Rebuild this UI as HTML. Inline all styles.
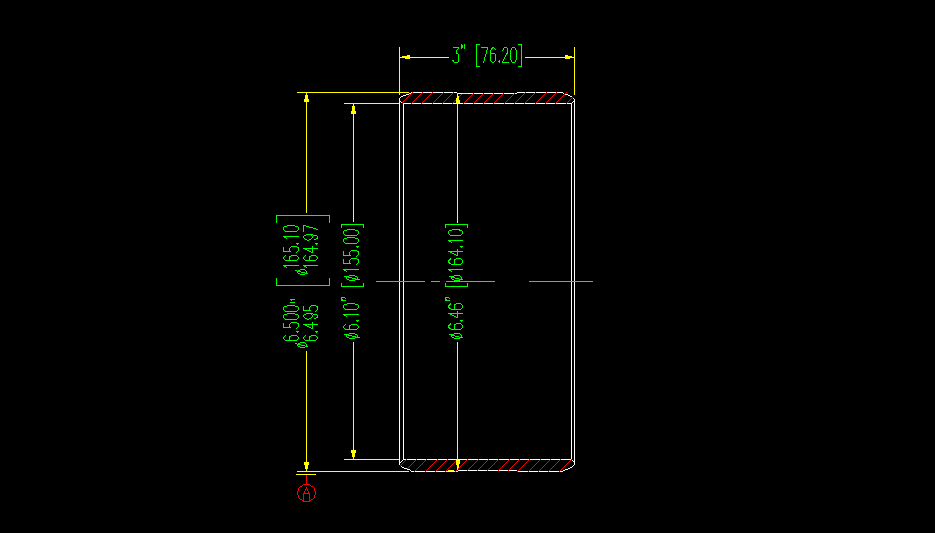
<!DOCTYPE html>
<html><head><meta charset="utf-8"><style>
html,body{margin:0;padding:0;background:#000;width:935px;height:533px;overflow:hidden;}
svg{display:block;}
</style></head><body>
<svg width="935" height="533" viewBox="0 0 935 533" shape-rendering="crispEdges">
<rect x="0" y="0" width="935" height="533" fill="#000"/>
<path fill="#ffffff" d="M411 92h1v1h-1zM413 92h9v1h-9zM423 92h9v1h-9zM433 92h10v1h-10zM444 92h9v1h-9zM454 92h3v1h-3zM517 92h8v1h-8zM526 92h9v1h-9zM536 92h10v1h-10zM547 92h9v1h-9zM557 92h6v1h-6zM409 93h2v1h-2zM458 93h4v1h-4zM468 93h5v1h-5zM474 93h9v1h-9zM484 93h9v1h-9zM494 93h9v1h-9zM504 93h10v1h-10zM515 93h2v1h-2zM563 93h1v1h-1zM406 94h3v1h-3zM565 94h3v1h-3zM403 95h3v1h-3zM568 95h2v1h-2zM401 96h2v1h-2zM570 96h2v1h-2zM400 97h1v1h-1zM399 98h1v1h-1zM573 98h1v1h-1zM399 99h1v1h-1zM574 99h1v1h-1zM399 100h1v1h-1zM574 100h1v1h-1zM399 101h2v1h-2zM573 101h2v1h-2zM399 102h1v1h-1zM401 102h1v1h-1zM572 102h1v1h-1zM574 102h1v1h-1zM399 103h1v1h-1zM403 103h8v1h-8zM412 103h9v1h-9zM422 103h10v1h-10zM433 103h9v1h-9zM443 103h9v1h-9zM453 103h4v1h-4zM458 103h5v1h-5zM464 103h9v1h-9zM474 103h9v1h-9zM484 103h9v1h-9zM494 103h10v1h-10zM505 103h9v1h-9zM515 103h9v1h-9zM525 103h10v1h-10zM536 103h9v1h-9zM546 103h9v1h-9zM556 103h10v1h-10zM567 103h5v1h-5zM574 103h1v1h-1zM399 104h1v1h-1zM403 104h1v1h-1zM571 104h1v1h-1zM574 104h1v1h-1zM399 105h1v1h-1zM403 105h1v1h-1zM571 105h1v1h-1zM574 105h1v1h-1zM399 106h1v1h-1zM403 106h1v1h-1zM571 106h1v1h-1zM574 106h1v1h-1zM399 107h1v1h-1zM403 107h1v1h-1zM571 107h1v1h-1zM574 107h1v1h-1zM399 108h1v1h-1zM403 108h1v1h-1zM571 108h1v1h-1zM574 108h1v1h-1zM399 109h1v1h-1zM403 109h1v1h-1zM571 109h1v1h-1zM574 109h1v1h-1zM399 110h1v1h-1zM403 110h1v1h-1zM571 110h1v1h-1zM574 110h1v1h-1zM399 111h1v1h-1zM403 111h1v1h-1zM571 111h1v1h-1zM574 111h1v1h-1zM399 112h1v1h-1zM403 112h1v1h-1zM571 112h1v1h-1zM574 112h1v1h-1zM399 113h1v1h-1zM403 113h1v1h-1zM571 113h1v1h-1zM574 113h1v1h-1zM399 114h1v1h-1zM403 114h1v1h-1zM571 114h1v1h-1zM574 114h1v1h-1zM399 115h1v1h-1zM403 115h1v1h-1zM571 115h1v1h-1zM574 115h1v1h-1zM399 116h1v1h-1zM403 116h1v1h-1zM571 116h1v1h-1zM574 116h1v1h-1zM399 117h1v1h-1zM403 117h1v1h-1zM571 117h1v1h-1zM574 117h1v1h-1zM399 118h1v1h-1zM403 118h1v1h-1zM571 118h1v1h-1zM574 118h1v1h-1zM399 119h1v1h-1zM403 119h1v1h-1zM571 119h1v1h-1zM574 119h1v1h-1zM399 120h1v1h-1zM403 120h1v1h-1zM571 120h1v1h-1zM574 120h1v1h-1zM399 121h1v1h-1zM403 121h1v1h-1zM571 121h1v1h-1zM574 121h1v1h-1zM399 122h1v1h-1zM403 122h1v1h-1zM571 122h1v1h-1zM574 122h1v1h-1zM399 123h1v1h-1zM403 123h1v1h-1zM571 123h1v1h-1zM574 123h1v1h-1zM399 124h1v1h-1zM403 124h1v1h-1zM571 124h1v1h-1zM574 124h1v1h-1zM399 125h1v1h-1zM403 125h1v1h-1zM571 125h1v1h-1zM574 125h1v1h-1zM399 126h1v1h-1zM403 126h1v1h-1zM571 126h1v1h-1zM574 126h1v1h-1zM399 127h1v1h-1zM403 127h1v1h-1zM571 127h1v1h-1zM574 127h1v1h-1zM399 128h1v1h-1zM403 128h1v1h-1zM571 128h1v1h-1zM574 128h1v1h-1zM399 129h1v1h-1zM403 129h1v1h-1zM571 129h1v1h-1zM574 129h1v1h-1zM399 130h1v1h-1zM403 130h1v1h-1zM571 130h1v1h-1zM574 130h1v1h-1zM399 131h1v1h-1zM403 131h1v1h-1zM571 131h1v1h-1zM574 131h1v1h-1zM399 132h1v1h-1zM403 132h1v1h-1zM571 132h1v1h-1zM574 132h1v1h-1zM399 133h1v1h-1zM403 133h1v1h-1zM571 133h1v1h-1zM574 133h1v1h-1zM399 134h1v1h-1zM403 134h1v1h-1zM571 134h1v1h-1zM574 134h1v1h-1zM399 135h1v1h-1zM403 135h1v1h-1zM571 135h1v1h-1zM574 135h1v1h-1zM399 136h1v1h-1zM403 136h1v1h-1zM571 136h1v1h-1zM574 136h1v1h-1zM399 137h1v1h-1zM403 137h1v1h-1zM571 137h1v1h-1zM574 137h1v1h-1zM399 138h1v1h-1zM403 138h1v1h-1zM571 138h1v1h-1zM574 138h1v1h-1zM399 139h1v1h-1zM403 139h1v1h-1zM571 139h1v1h-1zM574 139h1v1h-1zM399 140h1v1h-1zM403 140h1v1h-1zM571 140h1v1h-1zM574 140h1v1h-1zM399 141h1v1h-1zM403 141h1v1h-1zM571 141h1v1h-1zM574 141h1v1h-1zM399 142h1v1h-1zM403 142h1v1h-1zM571 142h1v1h-1zM574 142h1v1h-1zM399 143h1v1h-1zM403 143h1v1h-1zM571 143h1v1h-1zM574 143h1v1h-1zM399 144h1v1h-1zM403 144h1v1h-1zM571 144h1v1h-1zM574 144h1v1h-1zM399 145h1v1h-1zM403 145h1v1h-1zM571 145h1v1h-1zM574 145h1v1h-1zM399 146h1v1h-1zM403 146h1v1h-1zM571 146h1v1h-1zM574 146h1v1h-1zM399 147h1v1h-1zM403 147h1v1h-1zM571 147h1v1h-1zM574 147h1v1h-1zM399 148h1v1h-1zM403 148h1v1h-1zM571 148h1v1h-1zM574 148h1v1h-1zM399 149h1v1h-1zM403 149h1v1h-1zM571 149h1v1h-1zM574 149h1v1h-1zM399 150h1v1h-1zM403 150h1v1h-1zM571 150h1v1h-1zM574 150h1v1h-1zM399 151h1v1h-1zM403 151h1v1h-1zM571 151h1v1h-1zM574 151h1v1h-1zM399 152h1v1h-1zM403 152h1v1h-1zM571 152h1v1h-1zM574 152h1v1h-1zM399 153h1v1h-1zM403 153h1v1h-1zM571 153h1v1h-1zM574 153h1v1h-1zM399 154h1v1h-1zM403 154h1v1h-1zM571 154h1v1h-1zM574 154h1v1h-1zM399 155h1v1h-1zM403 155h1v1h-1zM571 155h1v1h-1zM574 155h1v1h-1zM399 156h1v1h-1zM403 156h1v1h-1zM571 156h1v1h-1zM574 156h1v1h-1zM399 157h1v1h-1zM403 157h1v1h-1zM571 157h1v1h-1zM574 157h1v1h-1zM399 158h1v1h-1zM403 158h1v1h-1zM571 158h1v1h-1zM574 158h1v1h-1zM399 159h1v1h-1zM403 159h1v1h-1zM571 159h1v1h-1zM574 159h1v1h-1zM399 160h1v1h-1zM403 160h1v1h-1zM571 160h1v1h-1zM574 160h1v1h-1zM399 161h1v1h-1zM403 161h1v1h-1zM571 161h1v1h-1zM574 161h1v1h-1zM399 162h1v1h-1zM403 162h1v1h-1zM571 162h1v1h-1zM574 162h1v1h-1zM399 163h1v1h-1zM403 163h1v1h-1zM571 163h1v1h-1zM574 163h1v1h-1zM399 164h1v1h-1zM403 164h1v1h-1zM571 164h1v1h-1zM574 164h1v1h-1zM399 165h1v1h-1zM403 165h1v1h-1zM571 165h1v1h-1zM574 165h1v1h-1zM399 166h1v1h-1zM403 166h1v1h-1zM571 166h1v1h-1zM574 166h1v1h-1zM399 167h1v1h-1zM403 167h1v1h-1zM571 167h1v1h-1zM574 167h1v1h-1zM399 168h1v1h-1zM403 168h1v1h-1zM571 168h1v1h-1zM574 168h1v1h-1zM399 169h1v1h-1zM403 169h1v1h-1zM571 169h1v1h-1zM574 169h1v1h-1zM399 170h1v1h-1zM403 170h1v1h-1zM571 170h1v1h-1zM574 170h1v1h-1zM399 171h1v1h-1zM403 171h1v1h-1zM571 171h1v1h-1zM574 171h1v1h-1zM399 172h1v1h-1zM403 172h1v1h-1zM571 172h1v1h-1zM574 172h1v1h-1zM399 173h1v1h-1zM403 173h1v1h-1zM571 173h1v1h-1zM574 173h1v1h-1zM399 174h1v1h-1zM403 174h1v1h-1zM571 174h1v1h-1zM574 174h1v1h-1zM399 175h1v1h-1zM403 175h1v1h-1zM571 175h1v1h-1zM574 175h1v1h-1zM399 176h1v1h-1zM403 176h1v1h-1zM571 176h1v1h-1zM574 176h1v1h-1zM399 177h1v1h-1zM403 177h1v1h-1zM571 177h1v1h-1zM574 177h1v1h-1zM399 178h1v1h-1zM403 178h1v1h-1zM571 178h1v1h-1zM574 178h1v1h-1zM399 179h1v1h-1zM403 179h1v1h-1zM571 179h1v1h-1zM574 179h1v1h-1zM399 180h1v1h-1zM403 180h1v1h-1zM571 180h1v1h-1zM574 180h1v1h-1zM399 181h1v1h-1zM403 181h1v1h-1zM571 181h1v1h-1zM574 181h1v1h-1zM399 182h1v1h-1zM403 182h1v1h-1zM571 182h1v1h-1zM574 182h1v1h-1zM399 183h1v1h-1zM403 183h1v1h-1zM571 183h1v1h-1zM574 183h1v1h-1zM399 184h1v1h-1zM403 184h1v1h-1zM571 184h1v1h-1zM574 184h1v1h-1zM399 185h1v1h-1zM403 185h1v1h-1zM571 185h1v1h-1zM574 185h1v1h-1zM399 186h1v1h-1zM403 186h1v1h-1zM571 186h1v1h-1zM574 186h1v1h-1zM399 187h1v1h-1zM403 187h1v1h-1zM571 187h1v1h-1zM574 187h1v1h-1zM399 188h1v1h-1zM403 188h1v1h-1zM571 188h1v1h-1zM574 188h1v1h-1zM399 189h1v1h-1zM403 189h1v1h-1zM571 189h1v1h-1zM574 189h1v1h-1zM399 190h1v1h-1zM403 190h1v1h-1zM571 190h1v1h-1zM574 190h1v1h-1zM399 191h1v1h-1zM403 191h1v1h-1zM571 191h1v1h-1zM574 191h1v1h-1zM399 192h1v1h-1zM403 192h1v1h-1zM571 192h1v1h-1zM574 192h1v1h-1zM399 193h1v1h-1zM403 193h1v1h-1zM571 193h1v1h-1zM574 193h1v1h-1zM399 194h1v1h-1zM403 194h1v1h-1zM571 194h1v1h-1zM574 194h1v1h-1zM399 195h1v1h-1zM403 195h1v1h-1zM571 195h1v1h-1zM574 195h1v1h-1zM399 196h1v1h-1zM403 196h1v1h-1zM571 196h1v1h-1zM574 196h1v1h-1zM399 197h1v1h-1zM403 197h1v1h-1zM571 197h1v1h-1zM574 197h1v1h-1zM399 198h1v1h-1zM403 198h1v1h-1zM571 198h1v1h-1zM574 198h1v1h-1zM399 199h1v1h-1zM403 199h1v1h-1zM571 199h1v1h-1zM574 199h1v1h-1zM399 200h1v1h-1zM403 200h1v1h-1zM571 200h1v1h-1zM574 200h1v1h-1zM399 201h1v1h-1zM403 201h1v1h-1zM571 201h1v1h-1zM574 201h1v1h-1zM399 202h1v1h-1zM403 202h1v1h-1zM571 202h1v1h-1zM574 202h1v1h-1zM399 203h1v1h-1zM403 203h1v1h-1zM571 203h1v1h-1zM574 203h1v1h-1zM399 204h1v1h-1zM403 204h1v1h-1zM571 204h1v1h-1zM574 204h1v1h-1zM399 205h1v1h-1zM403 205h1v1h-1zM571 205h1v1h-1zM574 205h1v1h-1zM399 206h1v1h-1zM403 206h1v1h-1zM571 206h1v1h-1zM574 206h1v1h-1zM399 207h1v1h-1zM403 207h1v1h-1zM571 207h1v1h-1zM574 207h1v1h-1zM399 208h1v1h-1zM403 208h1v1h-1zM571 208h1v1h-1zM574 208h1v1h-1zM399 209h1v1h-1zM403 209h1v1h-1zM571 209h1v1h-1zM574 209h1v1h-1zM399 210h1v1h-1zM403 210h1v1h-1zM571 210h1v1h-1zM574 210h1v1h-1zM399 211h1v1h-1zM403 211h1v1h-1zM571 211h1v1h-1zM574 211h1v1h-1zM399 212h1v1h-1zM403 212h1v1h-1zM571 212h1v1h-1zM574 212h1v1h-1zM399 213h1v1h-1zM403 213h1v1h-1zM571 213h1v1h-1zM574 213h1v1h-1zM399 214h1v1h-1zM403 214h1v1h-1zM571 214h1v1h-1zM574 214h1v1h-1zM399 215h1v1h-1zM403 215h1v1h-1zM571 215h1v1h-1zM574 215h1v1h-1zM399 216h1v1h-1zM403 216h1v1h-1zM571 216h1v1h-1zM574 216h1v1h-1zM399 217h1v1h-1zM403 217h1v1h-1zM571 217h1v1h-1zM574 217h1v1h-1zM399 218h1v1h-1zM403 218h1v1h-1zM571 218h1v1h-1zM574 218h1v1h-1zM399 219h1v1h-1zM403 219h1v1h-1zM571 219h1v1h-1zM574 219h1v1h-1zM399 220h1v1h-1zM403 220h1v1h-1zM571 220h1v1h-1zM574 220h1v1h-1zM399 221h1v1h-1zM403 221h1v1h-1zM571 221h1v1h-1zM574 221h1v1h-1zM399 222h1v1h-1zM403 222h1v1h-1zM571 222h1v1h-1zM574 222h1v1h-1zM399 223h1v1h-1zM403 223h1v1h-1zM571 223h1v1h-1zM574 223h1v1h-1zM399 224h1v1h-1zM403 224h1v1h-1zM571 224h1v1h-1zM574 224h1v1h-1zM399 225h1v1h-1zM403 225h1v1h-1zM571 225h1v1h-1zM574 225h1v1h-1zM399 226h1v1h-1zM403 226h1v1h-1zM571 226h1v1h-1zM574 226h1v1h-1zM399 227h1v1h-1zM403 227h1v1h-1zM571 227h1v1h-1zM574 227h1v1h-1zM399 228h1v1h-1zM403 228h1v1h-1zM571 228h1v1h-1zM574 228h1v1h-1zM399 229h1v1h-1zM403 229h1v1h-1zM571 229h1v1h-1zM574 229h1v1h-1zM399 230h1v1h-1zM403 230h1v1h-1zM571 230h1v1h-1zM574 230h1v1h-1zM399 231h1v1h-1zM403 231h1v1h-1zM571 231h1v1h-1zM574 231h1v1h-1zM399 232h1v1h-1zM403 232h1v1h-1zM571 232h1v1h-1zM574 232h1v1h-1zM399 233h1v1h-1zM403 233h1v1h-1zM571 233h1v1h-1zM574 233h1v1h-1zM399 234h1v1h-1zM403 234h1v1h-1zM571 234h1v1h-1zM574 234h1v1h-1zM399 235h1v1h-1zM403 235h1v1h-1zM571 235h1v1h-1zM574 235h1v1h-1zM399 236h1v1h-1zM403 236h1v1h-1zM571 236h1v1h-1zM574 236h1v1h-1zM399 237h1v1h-1zM403 237h1v1h-1zM571 237h1v1h-1zM574 237h1v1h-1zM399 238h1v1h-1zM403 238h1v1h-1zM571 238h1v1h-1zM574 238h1v1h-1zM399 239h1v1h-1zM403 239h1v1h-1zM571 239h1v1h-1zM574 239h1v1h-1zM399 240h1v1h-1zM403 240h1v1h-1zM571 240h1v1h-1zM574 240h1v1h-1zM399 241h1v1h-1zM403 241h1v1h-1zM571 241h1v1h-1zM574 241h1v1h-1zM399 242h1v1h-1zM403 242h1v1h-1zM571 242h1v1h-1zM574 242h1v1h-1zM399 243h1v1h-1zM403 243h1v1h-1zM571 243h1v1h-1zM574 243h1v1h-1zM399 244h1v1h-1zM403 244h1v1h-1zM571 244h1v1h-1zM574 244h1v1h-1zM399 245h1v1h-1zM403 245h1v1h-1zM571 245h1v1h-1zM574 245h1v1h-1zM399 246h1v1h-1zM403 246h1v1h-1zM571 246h1v1h-1zM574 246h1v1h-1zM399 247h1v1h-1zM403 247h1v1h-1zM571 247h1v1h-1zM574 247h1v1h-1zM399 248h1v1h-1zM403 248h1v1h-1zM571 248h1v1h-1zM574 248h1v1h-1zM399 249h1v1h-1zM403 249h1v1h-1zM571 249h1v1h-1zM574 249h1v1h-1zM399 250h1v1h-1zM403 250h1v1h-1zM571 250h1v1h-1zM574 250h1v1h-1zM399 251h1v1h-1zM403 251h1v1h-1zM571 251h1v1h-1zM574 251h1v1h-1zM399 252h1v1h-1zM403 252h1v1h-1zM571 252h1v1h-1zM574 252h1v1h-1zM399 253h1v1h-1zM403 253h1v1h-1zM571 253h1v1h-1zM574 253h1v1h-1zM399 254h1v1h-1zM403 254h1v1h-1zM571 254h1v1h-1zM574 254h1v1h-1zM399 255h1v1h-1zM403 255h1v1h-1zM571 255h1v1h-1zM574 255h1v1h-1zM399 256h1v1h-1zM403 256h1v1h-1zM571 256h1v1h-1zM574 256h1v1h-1zM399 257h1v1h-1zM403 257h1v1h-1zM571 257h1v1h-1zM574 257h1v1h-1zM399 258h1v1h-1zM403 258h1v1h-1zM571 258h1v1h-1zM574 258h1v1h-1zM399 259h1v1h-1zM403 259h1v1h-1zM571 259h1v1h-1zM574 259h1v1h-1zM399 260h1v1h-1zM403 260h1v1h-1zM571 260h1v1h-1zM574 260h1v1h-1zM399 261h1v1h-1zM403 261h1v1h-1zM571 261h1v1h-1zM574 261h1v1h-1zM399 262h1v1h-1zM403 262h1v1h-1zM571 262h1v1h-1zM574 262h1v1h-1zM399 263h1v1h-1zM403 263h1v1h-1zM571 263h1v1h-1zM574 263h1v1h-1zM399 264h1v1h-1zM403 264h1v1h-1zM571 264h1v1h-1zM574 264h1v1h-1zM399 265h1v1h-1zM403 265h1v1h-1zM571 265h1v1h-1zM574 265h1v1h-1zM399 266h1v1h-1zM403 266h1v1h-1zM571 266h1v1h-1zM574 266h1v1h-1zM399 267h1v1h-1zM403 267h1v1h-1zM571 267h1v1h-1zM574 267h1v1h-1zM399 268h1v1h-1zM403 268h1v1h-1zM571 268h1v1h-1zM574 268h1v1h-1zM399 269h1v1h-1zM403 269h1v1h-1zM571 269h1v1h-1zM574 269h1v1h-1zM399 270h1v1h-1zM403 270h1v1h-1zM571 270h1v1h-1zM574 270h1v1h-1zM399 271h1v1h-1zM403 271h1v1h-1zM571 271h1v1h-1zM574 271h1v1h-1zM399 272h1v1h-1zM403 272h1v1h-1zM571 272h1v1h-1zM574 272h1v1h-1zM399 273h1v1h-1zM403 273h1v1h-1zM571 273h1v1h-1zM574 273h1v1h-1zM399 274h1v1h-1zM403 274h1v1h-1zM571 274h1v1h-1zM574 274h1v1h-1zM399 275h1v1h-1zM403 275h1v1h-1zM571 275h1v1h-1zM574 275h1v1h-1zM399 276h1v1h-1zM403 276h1v1h-1zM571 276h1v1h-1zM574 276h1v1h-1zM399 277h1v1h-1zM403 277h1v1h-1zM571 277h1v1h-1zM574 277h1v1h-1zM399 278h1v1h-1zM403 278h1v1h-1zM571 278h1v1h-1zM574 278h1v1h-1zM399 279h1v1h-1zM403 279h1v1h-1zM571 279h1v1h-1zM574 279h1v1h-1zM399 280h1v1h-1zM403 280h1v1h-1zM571 280h1v1h-1zM574 280h1v1h-1zM399 282h1v1h-1zM403 282h1v1h-1zM571 282h1v1h-1zM574 282h1v1h-1zM399 283h1v1h-1zM403 283h1v1h-1zM571 283h1v1h-1zM574 283h1v1h-1zM399 284h1v1h-1zM403 284h1v1h-1zM571 284h1v1h-1zM574 284h1v1h-1zM399 285h1v1h-1zM403 285h1v1h-1zM571 285h1v1h-1zM574 285h1v1h-1zM399 286h1v1h-1zM403 286h1v1h-1zM571 286h1v1h-1zM574 286h1v1h-1zM399 287h1v1h-1zM403 287h1v1h-1zM571 287h1v1h-1zM574 287h1v1h-1zM399 288h1v1h-1zM403 288h1v1h-1zM571 288h1v1h-1zM574 288h1v1h-1zM399 289h1v1h-1zM403 289h1v1h-1zM571 289h1v1h-1zM574 289h1v1h-1zM399 290h1v1h-1zM403 290h1v1h-1zM571 290h1v1h-1zM574 290h1v1h-1zM399 291h1v1h-1zM403 291h1v1h-1zM571 291h1v1h-1zM574 291h1v1h-1zM399 292h1v1h-1zM403 292h1v1h-1zM571 292h1v1h-1zM574 292h1v1h-1zM399 293h1v1h-1zM403 293h1v1h-1zM571 293h1v1h-1zM574 293h1v1h-1zM399 294h1v1h-1zM403 294h1v1h-1zM571 294h1v1h-1zM574 294h1v1h-1zM399 295h1v1h-1zM403 295h1v1h-1zM571 295h1v1h-1zM574 295h1v1h-1zM399 296h1v1h-1zM403 296h1v1h-1zM571 296h1v1h-1zM574 296h1v1h-1zM399 297h1v1h-1zM403 297h1v1h-1zM571 297h1v1h-1zM574 297h1v1h-1zM399 298h1v1h-1zM403 298h1v1h-1zM571 298h1v1h-1zM574 298h1v1h-1zM399 299h1v1h-1zM403 299h1v1h-1zM571 299h1v1h-1zM574 299h1v1h-1zM399 300h1v1h-1zM403 300h1v1h-1zM571 300h1v1h-1zM574 300h1v1h-1zM399 301h1v1h-1zM403 301h1v1h-1zM571 301h1v1h-1zM574 301h1v1h-1zM399 302h1v1h-1zM403 302h1v1h-1zM571 302h1v1h-1zM574 302h1v1h-1zM399 303h1v1h-1zM403 303h1v1h-1zM571 303h1v1h-1zM574 303h1v1h-1zM399 304h1v1h-1zM403 304h1v1h-1zM571 304h1v1h-1zM574 304h1v1h-1zM399 305h1v1h-1zM403 305h1v1h-1zM571 305h1v1h-1zM574 305h1v1h-1zM399 306h1v1h-1zM403 306h1v1h-1zM571 306h1v1h-1zM574 306h1v1h-1zM399 307h1v1h-1zM403 307h1v1h-1zM571 307h1v1h-1zM574 307h1v1h-1zM399 308h1v1h-1zM403 308h1v1h-1zM571 308h1v1h-1zM574 308h1v1h-1zM399 309h1v1h-1zM403 309h1v1h-1zM571 309h1v1h-1zM574 309h1v1h-1zM399 310h1v1h-1zM403 310h1v1h-1zM571 310h1v1h-1zM574 310h1v1h-1zM399 311h1v1h-1zM403 311h1v1h-1zM571 311h1v1h-1zM574 311h1v1h-1zM399 312h1v1h-1zM403 312h1v1h-1zM571 312h1v1h-1zM574 312h1v1h-1zM399 313h1v1h-1zM403 313h1v1h-1zM571 313h1v1h-1zM574 313h1v1h-1zM399 314h1v1h-1zM403 314h1v1h-1zM571 314h1v1h-1zM574 314h1v1h-1zM399 315h1v1h-1zM403 315h1v1h-1zM571 315h1v1h-1zM574 315h1v1h-1zM399 316h1v1h-1zM403 316h1v1h-1zM571 316h1v1h-1zM574 316h1v1h-1zM399 317h1v1h-1zM403 317h1v1h-1zM571 317h1v1h-1zM574 317h1v1h-1zM399 318h1v1h-1zM403 318h1v1h-1zM571 318h1v1h-1zM574 318h1v1h-1zM399 319h1v1h-1zM403 319h1v1h-1zM571 319h1v1h-1zM574 319h1v1h-1zM399 320h1v1h-1zM403 320h1v1h-1zM571 320h1v1h-1zM574 320h1v1h-1zM399 321h1v1h-1zM403 321h1v1h-1zM571 321h1v1h-1zM574 321h1v1h-1zM399 322h1v1h-1zM403 322h1v1h-1zM571 322h1v1h-1zM574 322h1v1h-1zM399 323h1v1h-1zM403 323h1v1h-1zM571 323h1v1h-1zM574 323h1v1h-1zM399 324h1v1h-1zM403 324h1v1h-1zM571 324h1v1h-1zM574 324h1v1h-1zM399 325h1v1h-1zM403 325h1v1h-1zM571 325h1v1h-1zM574 325h1v1h-1zM399 326h1v1h-1zM403 326h1v1h-1zM571 326h1v1h-1zM574 326h1v1h-1zM399 327h1v1h-1zM403 327h1v1h-1zM571 327h1v1h-1zM574 327h1v1h-1zM399 328h1v1h-1zM403 328h1v1h-1zM571 328h1v1h-1zM574 328h1v1h-1zM399 329h1v1h-1zM403 329h1v1h-1zM571 329h1v1h-1zM574 329h1v1h-1zM399 330h1v1h-1zM403 330h1v1h-1zM571 330h1v1h-1zM574 330h1v1h-1zM399 331h1v1h-1zM403 331h1v1h-1zM571 331h1v1h-1zM574 331h1v1h-1zM399 332h1v1h-1zM403 332h1v1h-1zM571 332h1v1h-1zM574 332h1v1h-1zM399 333h1v1h-1zM403 333h1v1h-1zM571 333h1v1h-1zM574 333h1v1h-1zM399 334h1v1h-1zM403 334h1v1h-1zM571 334h1v1h-1zM574 334h1v1h-1zM399 335h1v1h-1zM403 335h1v1h-1zM571 335h1v1h-1zM574 335h1v1h-1zM399 336h1v1h-1zM403 336h1v1h-1zM571 336h1v1h-1zM574 336h1v1h-1zM399 337h1v1h-1zM403 337h1v1h-1zM571 337h1v1h-1zM574 337h1v1h-1zM399 338h1v1h-1zM403 338h1v1h-1zM571 338h1v1h-1zM574 338h1v1h-1zM399 339h1v1h-1zM403 339h1v1h-1zM571 339h1v1h-1zM574 339h1v1h-1zM399 340h1v1h-1zM403 340h1v1h-1zM571 340h1v1h-1zM574 340h1v1h-1zM399 341h1v1h-1zM403 341h1v1h-1zM571 341h1v1h-1zM574 341h1v1h-1zM399 342h1v1h-1zM403 342h1v1h-1zM571 342h1v1h-1zM574 342h1v1h-1zM399 343h1v1h-1zM403 343h1v1h-1zM571 343h1v1h-1zM574 343h1v1h-1zM399 344h1v1h-1zM403 344h1v1h-1zM571 344h1v1h-1zM574 344h1v1h-1zM399 345h1v1h-1zM403 345h1v1h-1zM571 345h1v1h-1zM574 345h1v1h-1zM399 346h1v1h-1zM403 346h1v1h-1zM571 346h1v1h-1zM574 346h1v1h-1zM399 347h1v1h-1zM403 347h1v1h-1zM571 347h1v1h-1zM574 347h1v1h-1zM399 348h1v1h-1zM403 348h1v1h-1zM571 348h1v1h-1zM574 348h1v1h-1zM399 349h1v1h-1zM403 349h1v1h-1zM571 349h1v1h-1zM574 349h1v1h-1zM399 350h1v1h-1zM403 350h1v1h-1zM571 350h1v1h-1zM574 350h1v1h-1zM399 351h1v1h-1zM403 351h1v1h-1zM571 351h1v1h-1zM574 351h1v1h-1zM399 352h1v1h-1zM403 352h1v1h-1zM571 352h1v1h-1zM574 352h1v1h-1zM399 353h1v1h-1zM403 353h1v1h-1zM571 353h1v1h-1zM574 353h1v1h-1zM399 354h1v1h-1zM403 354h1v1h-1zM571 354h1v1h-1zM574 354h1v1h-1zM399 355h1v1h-1zM403 355h1v1h-1zM571 355h1v1h-1zM574 355h1v1h-1zM399 356h1v1h-1zM403 356h1v1h-1zM571 356h1v1h-1zM574 356h1v1h-1zM399 357h1v1h-1zM403 357h1v1h-1zM571 357h1v1h-1zM574 357h1v1h-1zM399 358h1v1h-1zM403 358h1v1h-1zM571 358h1v1h-1zM574 358h1v1h-1zM399 359h1v1h-1zM403 359h1v1h-1zM571 359h1v1h-1zM574 359h1v1h-1zM399 360h1v1h-1zM403 360h1v1h-1zM571 360h1v1h-1zM574 360h1v1h-1zM399 361h1v1h-1zM403 361h1v1h-1zM571 361h1v1h-1zM574 361h1v1h-1zM399 362h1v1h-1zM403 362h1v1h-1zM571 362h1v1h-1zM574 362h1v1h-1zM399 363h1v1h-1zM403 363h1v1h-1zM571 363h1v1h-1zM574 363h1v1h-1zM399 364h1v1h-1zM403 364h1v1h-1zM571 364h1v1h-1zM574 364h1v1h-1zM399 365h1v1h-1zM403 365h1v1h-1zM571 365h1v1h-1zM574 365h1v1h-1zM399 366h1v1h-1zM403 366h1v1h-1zM571 366h1v1h-1zM574 366h1v1h-1zM399 367h1v1h-1zM403 367h1v1h-1zM571 367h1v1h-1zM574 367h1v1h-1zM399 368h1v1h-1zM403 368h1v1h-1zM571 368h1v1h-1zM574 368h1v1h-1zM399 369h1v1h-1zM403 369h1v1h-1zM571 369h1v1h-1zM574 369h1v1h-1zM399 370h1v1h-1zM403 370h1v1h-1zM571 370h1v1h-1zM574 370h1v1h-1zM399 371h1v1h-1zM403 371h1v1h-1zM571 371h1v1h-1zM574 371h1v1h-1zM399 372h1v1h-1zM403 372h1v1h-1zM571 372h1v1h-1zM574 372h1v1h-1zM399 373h1v1h-1zM403 373h1v1h-1zM571 373h1v1h-1zM574 373h1v1h-1zM399 374h1v1h-1zM403 374h1v1h-1zM571 374h1v1h-1zM574 374h1v1h-1zM399 375h1v1h-1zM403 375h1v1h-1zM571 375h1v1h-1zM574 375h1v1h-1zM399 376h1v1h-1zM403 376h1v1h-1zM571 376h1v1h-1zM574 376h1v1h-1zM399 377h1v1h-1zM403 377h1v1h-1zM571 377h1v1h-1zM574 377h1v1h-1zM399 378h1v1h-1zM403 378h1v1h-1zM571 378h1v1h-1zM574 378h1v1h-1zM399 379h1v1h-1zM403 379h1v1h-1zM571 379h1v1h-1zM574 379h1v1h-1zM399 380h1v1h-1zM403 380h1v1h-1zM571 380h1v1h-1zM574 380h1v1h-1zM399 381h1v1h-1zM403 381h1v1h-1zM571 381h1v1h-1zM574 381h1v1h-1zM399 382h1v1h-1zM403 382h1v1h-1zM571 382h1v1h-1zM574 382h1v1h-1zM399 383h1v1h-1zM403 383h1v1h-1zM571 383h1v1h-1zM574 383h1v1h-1zM399 384h1v1h-1zM403 384h1v1h-1zM571 384h1v1h-1zM574 384h1v1h-1zM399 385h1v1h-1zM403 385h1v1h-1zM571 385h1v1h-1zM574 385h1v1h-1zM399 386h1v1h-1zM403 386h1v1h-1zM571 386h1v1h-1zM574 386h1v1h-1zM399 387h1v1h-1zM403 387h1v1h-1zM571 387h1v1h-1zM574 387h1v1h-1zM399 388h1v1h-1zM403 388h1v1h-1zM571 388h1v1h-1zM574 388h1v1h-1zM399 389h1v1h-1zM403 389h1v1h-1zM571 389h1v1h-1zM574 389h1v1h-1zM399 390h1v1h-1zM403 390h1v1h-1zM571 390h1v1h-1zM574 390h1v1h-1zM399 391h1v1h-1zM403 391h1v1h-1zM571 391h1v1h-1zM574 391h1v1h-1zM399 392h1v1h-1zM403 392h1v1h-1zM571 392h1v1h-1zM574 392h1v1h-1zM399 393h1v1h-1zM403 393h1v1h-1zM571 393h1v1h-1zM574 393h1v1h-1zM399 394h1v1h-1zM403 394h1v1h-1zM571 394h1v1h-1zM574 394h1v1h-1zM399 395h1v1h-1zM403 395h1v1h-1zM571 395h1v1h-1zM574 395h1v1h-1zM399 396h1v1h-1zM403 396h1v1h-1zM571 396h1v1h-1zM574 396h1v1h-1zM399 397h1v1h-1zM403 397h1v1h-1zM571 397h1v1h-1zM574 397h1v1h-1zM399 398h1v1h-1zM403 398h1v1h-1zM571 398h1v1h-1zM574 398h1v1h-1zM399 399h1v1h-1zM403 399h1v1h-1zM571 399h1v1h-1zM574 399h1v1h-1zM399 400h1v1h-1zM403 400h1v1h-1zM571 400h1v1h-1zM574 400h1v1h-1zM399 401h1v1h-1zM403 401h1v1h-1zM571 401h1v1h-1zM574 401h1v1h-1zM399 402h1v1h-1zM403 402h1v1h-1zM571 402h1v1h-1zM574 402h1v1h-1zM399 403h1v1h-1zM403 403h1v1h-1zM571 403h1v1h-1zM574 403h1v1h-1zM399 404h1v1h-1zM403 404h1v1h-1zM571 404h1v1h-1zM574 404h1v1h-1zM399 405h1v1h-1zM403 405h1v1h-1zM571 405h1v1h-1zM574 405h1v1h-1zM399 406h1v1h-1zM403 406h1v1h-1zM571 406h1v1h-1zM574 406h1v1h-1zM399 407h1v1h-1zM403 407h1v1h-1zM571 407h1v1h-1zM574 407h1v1h-1zM399 408h1v1h-1zM403 408h1v1h-1zM571 408h1v1h-1zM574 408h1v1h-1zM399 409h1v1h-1zM403 409h1v1h-1zM571 409h1v1h-1zM574 409h1v1h-1zM399 410h1v1h-1zM403 410h1v1h-1zM571 410h1v1h-1zM574 410h1v1h-1zM399 411h1v1h-1zM403 411h1v1h-1zM571 411h1v1h-1zM574 411h1v1h-1zM399 412h1v1h-1zM403 412h1v1h-1zM571 412h1v1h-1zM574 412h1v1h-1zM399 413h1v1h-1zM403 413h1v1h-1zM571 413h1v1h-1zM574 413h1v1h-1zM399 414h1v1h-1zM403 414h1v1h-1zM571 414h1v1h-1zM574 414h1v1h-1zM399 415h1v1h-1zM403 415h1v1h-1zM571 415h1v1h-1zM574 415h1v1h-1zM399 416h1v1h-1zM403 416h1v1h-1zM571 416h1v1h-1zM574 416h1v1h-1zM399 417h1v1h-1zM403 417h1v1h-1zM571 417h1v1h-1zM574 417h1v1h-1zM399 418h1v1h-1zM403 418h1v1h-1zM571 418h1v1h-1zM574 418h1v1h-1zM399 419h1v1h-1zM403 419h1v1h-1zM571 419h1v1h-1zM574 419h1v1h-1zM399 420h1v1h-1zM403 420h1v1h-1zM571 420h1v1h-1zM574 420h1v1h-1zM399 421h1v1h-1zM403 421h1v1h-1zM571 421h1v1h-1zM574 421h1v1h-1zM399 422h1v1h-1zM403 422h1v1h-1zM571 422h1v1h-1zM574 422h1v1h-1zM399 423h1v1h-1zM403 423h1v1h-1zM571 423h1v1h-1zM574 423h1v1h-1zM399 424h1v1h-1zM403 424h1v1h-1zM571 424h1v1h-1zM574 424h1v1h-1zM399 425h1v1h-1zM403 425h1v1h-1zM571 425h1v1h-1zM574 425h1v1h-1zM399 426h1v1h-1zM403 426h1v1h-1zM571 426h1v1h-1zM574 426h1v1h-1zM399 427h1v1h-1zM403 427h1v1h-1zM571 427h1v1h-1zM574 427h1v1h-1zM399 428h1v1h-1zM403 428h1v1h-1zM571 428h1v1h-1zM574 428h1v1h-1zM399 429h1v1h-1zM403 429h1v1h-1zM571 429h1v1h-1zM574 429h1v1h-1zM399 430h1v1h-1zM403 430h1v1h-1zM571 430h1v1h-1zM574 430h1v1h-1zM399 431h1v1h-1zM403 431h1v1h-1zM571 431h1v1h-1zM574 431h1v1h-1zM399 432h1v1h-1zM403 432h1v1h-1zM571 432h1v1h-1zM574 432h1v1h-1zM399 433h1v1h-1zM403 433h1v1h-1zM571 433h1v1h-1zM574 433h1v1h-1zM399 434h1v1h-1zM403 434h1v1h-1zM571 434h1v1h-1zM574 434h1v1h-1zM399 435h1v1h-1zM403 435h1v1h-1zM571 435h1v1h-1zM574 435h1v1h-1zM399 436h1v1h-1zM403 436h1v1h-1zM571 436h1v1h-1zM574 436h1v1h-1zM399 437h1v1h-1zM403 437h1v1h-1zM571 437h1v1h-1zM574 437h1v1h-1zM399 438h1v1h-1zM403 438h1v1h-1zM571 438h1v1h-1zM574 438h1v1h-1zM399 439h1v1h-1zM403 439h1v1h-1zM571 439h1v1h-1zM574 439h1v1h-1zM399 440h1v1h-1zM403 440h1v1h-1zM571 440h1v1h-1zM574 440h1v1h-1zM399 441h1v1h-1zM403 441h1v1h-1zM571 441h1v1h-1zM574 441h1v1h-1zM399 442h1v1h-1zM403 442h1v1h-1zM571 442h1v1h-1zM574 442h1v1h-1zM399 443h1v1h-1zM403 443h1v1h-1zM571 443h1v1h-1zM574 443h1v1h-1zM399 444h1v1h-1zM403 444h1v1h-1zM571 444h1v1h-1zM574 444h1v1h-1zM399 445h1v1h-1zM403 445h1v1h-1zM571 445h1v1h-1zM574 445h1v1h-1zM399 446h1v1h-1zM403 446h1v1h-1zM571 446h1v1h-1zM574 446h1v1h-1zM399 447h1v1h-1zM403 447h1v1h-1zM571 447h1v1h-1zM574 447h1v1h-1zM399 448h1v1h-1zM403 448h1v1h-1zM571 448h1v1h-1zM574 448h1v1h-1zM399 449h1v1h-1zM403 449h1v1h-1zM571 449h1v1h-1zM574 449h1v1h-1zM399 450h1v1h-1zM403 450h1v1h-1zM571 450h1v1h-1zM574 450h1v1h-1zM399 451h1v1h-1zM403 451h1v1h-1zM571 451h1v1h-1zM574 451h1v1h-1zM399 452h1v1h-1zM403 452h1v1h-1zM571 452h1v1h-1zM574 452h1v1h-1zM399 453h1v1h-1zM403 453h1v1h-1zM571 453h1v1h-1zM574 453h1v1h-1zM399 454h1v1h-1zM403 454h1v1h-1zM571 454h1v1h-1zM574 454h1v1h-1zM399 455h1v1h-1zM403 455h1v1h-1zM571 455h1v1h-1zM574 455h1v1h-1zM399 456h1v1h-1zM403 456h1v1h-1zM571 456h1v1h-1zM574 456h1v1h-1zM399 457h1v1h-1zM403 457h1v1h-1zM571 457h1v1h-1zM574 457h1v1h-1zM399 458h1v1h-1zM403 458h1v1h-1zM571 458h1v1h-1zM574 458h1v1h-1zM399 459h1v1h-1zM403 459h3v1h-3zM407 459h9v1h-9zM417 459h9v1h-9zM427 459h10v1h-10zM438 459h9v1h-9zM448 459h9v1h-9zM458 459h9v1h-9zM468 459h10v1h-10zM479 459h9v1h-9zM489 459h9v1h-9zM499 459h10v1h-10zM510 459h9v1h-9zM520 459h9v1h-9zM530 459h10v1h-10zM541 459h9v1h-9zM551 459h9v1h-9zM561 459h10v1h-10zM574 459h1v1h-1zM399 460h1v1h-1zM402 460h1v1h-1zM572 460h1v1h-1zM574 460h1v1h-1zM399 461h1v1h-1zM401 461h1v1h-1zM573 461h2v1h-2zM399 462h2v1h-2zM574 462h1v1h-1zM399 463h1v1h-1zM574 463h1v1h-1zM399 464h1v1h-1zM574 464h1v1h-1zM573 465h1v1h-1zM401 466h1v1h-1zM572 466h1v1h-1zM402 467h2v1h-2zM570 467h2v1h-2zM404 468h3v1h-3zM568 468h2v1h-2zM407 469h3v1h-3zM565 469h3v1h-3zM410 470h1v1h-1zM458 470h9v1h-9zM468 470h9v1h-9zM478 470h9v1h-9zM488 470h10v1h-10zM499 470h9v1h-9zM509 470h8v1h-8zM563 470h2v1h-2zM411 471h3v1h-3zM415 471h10v1h-10zM426 471h9v1h-9zM436 471h9v1h-9zM446 471h9v1h-9zM456 471h2v1h-2zM518 471h10v1h-10zM529 471h9v1h-9zM539 471h9v1h-9zM549 471h10v1h-10zM560 471h3v1h-3z"/>
<path fill="#ff0000" d="M412 92h1v1h-1zM422 92h1v1h-1zM432 92h1v1h-1zM443 92h1v1h-1zM453 92h1v1h-1zM525 92h1v1h-1zM535 92h1v1h-1zM546 92h1v1h-1zM556 92h1v1h-1zM566 92h1v1h-1zM411 93h1v1h-1zM421 93h1v1h-1zM431 93h1v1h-1zM442 93h1v1h-1zM452 93h1v1h-1zM473 93h1v1h-1zM483 93h1v1h-1zM493 93h1v1h-1zM503 93h1v1h-1zM514 93h1v1h-1zM524 93h1v1h-1zM534 93h1v1h-1zM545 93h1v1h-1zM555 93h1v1h-1zM565 93h1v1h-1zM410 94h1v1h-1zM420 94h1v1h-1zM430 94h1v1h-1zM441 94h1v1h-1zM451 94h1v1h-1zM461 94h1v1h-1zM472 94h1v1h-1zM482 94h1v1h-1zM492 94h1v1h-1zM502 94h1v1h-1zM513 94h1v1h-1zM523 94h1v1h-1zM533 94h1v1h-1zM544 94h1v1h-1zM554 94h1v1h-1zM564 94h1v1h-1zM409 95h1v1h-1zM419 95h1v1h-1zM429 95h1v1h-1zM440 95h1v1h-1zM450 95h1v1h-1zM460 95h1v1h-1zM471 95h1v1h-1zM481 95h1v1h-1zM491 95h1v1h-1zM501 95h1v1h-1zM512 95h1v1h-1zM522 95h1v1h-1zM532 95h1v1h-1zM543 95h1v1h-1zM553 95h1v1h-1zM563 95h1v1h-1zM408 96h1v1h-1zM418 96h1v1h-1zM428 96h1v1h-1zM439 96h1v1h-1zM449 96h1v1h-1zM459 96h1v1h-1zM470 96h1v1h-1zM480 96h1v1h-1zM490 96h1v1h-1zM500 96h1v1h-1zM511 96h1v1h-1zM521 96h1v1h-1zM531 96h1v1h-1zM542 96h1v1h-1zM552 96h1v1h-1zM562 96h1v1h-1zM407 97h1v1h-1zM417 97h1v1h-1zM427 97h1v1h-1zM438 97h1v1h-1zM448 97h1v1h-1zM469 97h1v1h-1zM479 97h1v1h-1zM489 97h1v1h-1zM499 97h1v1h-1zM510 97h1v1h-1zM520 97h1v1h-1zM530 97h1v1h-1zM541 97h1v1h-1zM551 97h1v1h-1zM561 97h1v1h-1zM572 97h1v1h-1zM406 98h1v1h-1zM416 98h1v1h-1zM426 98h1v1h-1zM437 98h1v1h-1zM447 98h1v1h-1zM468 98h1v1h-1zM478 98h1v1h-1zM488 98h1v1h-1zM498 98h1v1h-1zM509 98h1v1h-1zM519 98h1v1h-1zM529 98h1v1h-1zM540 98h1v1h-1zM550 98h1v1h-1zM560 98h1v1h-1zM571 98h1v1h-1zM405 99h1v1h-1zM415 99h1v1h-1zM425 99h1v1h-1zM436 99h1v1h-1zM446 99h1v1h-1zM467 99h1v1h-1zM477 99h1v1h-1zM487 99h1v1h-1zM497 99h1v1h-1zM508 99h1v1h-1zM518 99h1v1h-1zM528 99h1v1h-1zM539 99h1v1h-1zM549 99h1v1h-1zM559 99h1v1h-1zM570 99h1v1h-1zM404 100h1v1h-1zM414 100h1v1h-1zM424 100h1v1h-1zM435 100h1v1h-1zM445 100h1v1h-1zM455 100h1v1h-1zM466 100h1v1h-1zM476 100h1v1h-1zM486 100h1v1h-1zM496 100h1v1h-1zM507 100h1v1h-1zM517 100h1v1h-1zM527 100h1v1h-1zM538 100h1v1h-1zM548 100h1v1h-1zM558 100h1v1h-1zM569 100h1v1h-1zM403 101h1v1h-1zM413 101h1v1h-1zM423 101h1v1h-1zM434 101h1v1h-1zM444 101h1v1h-1zM454 101h1v1h-1zM465 101h1v1h-1zM475 101h1v1h-1zM485 101h1v1h-1zM495 101h1v1h-1zM506 101h1v1h-1zM516 101h1v1h-1zM526 101h1v1h-1zM537 101h1v1h-1zM547 101h1v1h-1zM557 101h1v1h-1zM568 101h1v1h-1zM402 102h1v1h-1zM412 102h1v1h-1zM422 102h1v1h-1zM433 102h1v1h-1zM443 102h1v1h-1zM453 102h1v1h-1zM464 102h1v1h-1zM474 102h1v1h-1zM484 102h1v1h-1zM494 102h1v1h-1zM505 102h1v1h-1zM515 102h1v1h-1zM525 102h1v1h-1zM536 102h1v1h-1zM546 102h1v1h-1zM556 102h1v1h-1zM567 102h1v1h-1zM411 103h1v1h-1zM421 103h1v1h-1zM432 103h1v1h-1zM442 103h1v1h-1zM452 103h1v1h-1zM463 103h1v1h-1zM473 103h1v1h-1zM483 103h1v1h-1zM493 103h1v1h-1zM504 103h1v1h-1zM514 103h1v1h-1zM524 103h1v1h-1zM535 103h1v1h-1zM545 103h1v1h-1zM555 103h1v1h-1zM566 103h1v1h-1zM406 459h1v1h-1zM416 459h1v1h-1zM426 459h1v1h-1zM437 459h1v1h-1zM447 459h1v1h-1zM467 459h1v1h-1zM478 459h1v1h-1zM488 459h1v1h-1zM498 459h1v1h-1zM509 459h1v1h-1zM519 459h1v1h-1zM529 459h1v1h-1zM540 459h1v1h-1zM550 459h1v1h-1zM560 459h1v1h-1zM571 459h1v1h-1zM405 460h1v1h-1zM415 460h1v1h-1zM425 460h1v1h-1zM436 460h1v1h-1zM446 460h1v1h-1zM466 460h1v1h-1zM477 460h1v1h-1zM487 460h1v1h-1zM497 460h1v1h-1zM508 460h1v1h-1zM518 460h1v1h-1zM528 460h1v1h-1zM539 460h1v1h-1zM549 460h1v1h-1zM559 460h1v1h-1zM570 460h1v1h-1zM404 461h1v1h-1zM414 461h1v1h-1zM424 461h1v1h-1zM435 461h1v1h-1zM445 461h1v1h-1zM455 461h1v1h-1zM465 461h1v1h-1zM476 461h1v1h-1zM486 461h1v1h-1zM496 461h1v1h-1zM507 461h1v1h-1zM517 461h1v1h-1zM527 461h1v1h-1zM538 461h1v1h-1zM548 461h1v1h-1zM558 461h1v1h-1zM569 461h1v1h-1zM403 462h1v1h-1zM413 462h1v1h-1zM423 462h1v1h-1zM434 462h1v1h-1zM444 462h1v1h-1zM454 462h1v1h-1zM464 462h1v1h-1zM475 462h1v1h-1zM485 462h1v1h-1zM495 462h1v1h-1zM506 462h1v1h-1zM516 462h1v1h-1zM526 462h1v1h-1zM537 462h1v1h-1zM547 462h1v1h-1zM557 462h1v1h-1zM568 462h1v1h-1zM402 463h1v1h-1zM412 463h1v1h-1zM422 463h1v1h-1zM433 463h1v1h-1zM443 463h1v1h-1zM453 463h1v1h-1zM463 463h1v1h-1zM474 463h1v1h-1zM484 463h1v1h-1zM494 463h1v1h-1zM505 463h1v1h-1zM515 463h1v1h-1zM525 463h1v1h-1zM536 463h1v1h-1zM546 463h1v1h-1zM556 463h1v1h-1zM567 463h1v1h-1zM401 464h1v1h-1zM411 464h1v1h-1zM421 464h1v1h-1zM432 464h1v1h-1zM442 464h1v1h-1zM452 464h1v1h-1zM462 464h1v1h-1zM473 464h1v1h-1zM483 464h1v1h-1zM493 464h1v1h-1zM504 464h1v1h-1zM514 464h1v1h-1zM524 464h1v1h-1zM535 464h1v1h-1zM545 464h1v1h-1zM555 464h1v1h-1zM566 464h1v1h-1zM400 465h1v1h-1zM410 465h1v1h-1zM420 465h1v1h-1zM431 465h1v1h-1zM441 465h1v1h-1zM451 465h1v1h-1zM461 465h1v1h-1zM472 465h1v1h-1zM482 465h1v1h-1zM492 465h1v1h-1zM503 465h1v1h-1zM513 465h1v1h-1zM523 465h1v1h-1zM534 465h1v1h-1zM544 465h1v1h-1zM554 465h1v1h-1zM565 465h1v1h-1zM409 466h1v1h-1zM419 466h1v1h-1zM430 466h1v1h-1zM440 466h1v1h-1zM450 466h1v1h-1zM460 466h1v1h-1zM471 466h1v1h-1zM481 466h1v1h-1zM491 466h1v1h-1zM502 466h1v1h-1zM512 466h1v1h-1zM522 466h1v1h-1zM533 466h1v1h-1zM543 466h1v1h-1zM553 466h1v1h-1zM564 466h1v1h-1zM408 467h1v1h-1zM418 467h1v1h-1zM429 467h1v1h-1zM439 467h1v1h-1zM449 467h1v1h-1zM459 467h1v1h-1zM470 467h1v1h-1zM480 467h1v1h-1zM490 467h1v1h-1zM501 467h1v1h-1zM511 467h1v1h-1zM521 467h1v1h-1zM532 467h1v1h-1zM542 467h1v1h-1zM552 467h1v1h-1zM563 467h1v1h-1zM407 468h1v1h-1zM417 468h1v1h-1zM428 468h1v1h-1zM438 468h1v1h-1zM448 468h1v1h-1zM458 468h1v1h-1zM469 468h1v1h-1zM479 468h1v1h-1zM489 468h1v1h-1zM500 468h1v1h-1zM510 468h1v1h-1zM520 468h1v1h-1zM531 468h1v1h-1zM541 468h1v1h-1zM551 468h1v1h-1zM562 468h1v1h-1zM416 469h1v1h-1zM427 469h1v1h-1zM437 469h1v1h-1zM447 469h1v1h-1zM468 469h1v1h-1zM478 469h1v1h-1zM488 469h1v1h-1zM499 469h1v1h-1zM509 469h1v1h-1zM519 469h1v1h-1zM530 469h1v1h-1zM540 469h1v1h-1zM550 469h1v1h-1zM561 469h1v1h-1zM415 470h1v1h-1zM426 470h1v1h-1zM436 470h1v1h-1zM446 470h1v1h-1zM456 470h1v1h-1zM467 470h1v1h-1zM477 470h1v1h-1zM487 470h1v1h-1zM498 470h1v1h-1zM508 470h1v1h-1zM518 470h1v1h-1zM529 470h1v1h-1zM539 470h1v1h-1zM549 470h1v1h-1zM560 470h1v1h-1zM414 471h1v1h-1zM425 471h1v1h-1zM435 471h1v1h-1zM445 471h1v1h-1zM455 471h1v1h-1zM517 471h1v1h-1zM528 471h1v1h-1zM538 471h1v1h-1zM548 471h1v1h-1zM559 471h1v1h-1zM306 475h1v1h-1zM306 476h1v1h-1zM306 477h1v1h-1zM306 478h1v1h-1zM306 479h1v1h-1zM306 480h1v1h-1zM306 481h1v1h-1zM306 482h1v1h-1zM306 483h1v1h-1zM303 484h7v1h-7zM302 485h1v1h-1zM310 485h1v1h-1zM300 486h2v1h-2zM311 486h2v1h-2zM299 487h1v1h-1zM306 487h1v1h-1zM313 487h1v1h-1zM298 488h1v1h-1zM306 488h1v1h-1zM314 488h1v1h-1zM298 489h1v1h-1zM305 489h1v1h-1zM307 489h1v1h-1zM314 489h1v1h-1zM298 490h1v1h-1zM305 490h1v1h-1zM307 490h1v1h-1zM314 490h1v1h-1zM297 491h1v1h-1zM304 491h1v1h-1zM308 491h1v1h-1zM315 491h1v1h-1zM297 492h1v1h-1zM304 492h1v1h-1zM308 492h1v1h-1zM315 492h1v1h-1zM297 493h1v1h-1zM303 493h7v1h-7zM315 493h1v1h-1zM297 494h1v1h-1zM303 494h1v1h-1zM309 494h1v1h-1zM315 494h1v1h-1zM298 495h1v1h-1zM303 495h1v1h-1zM309 495h1v1h-1zM314 495h1v1h-1zM298 496h1v1h-1zM303 496h1v1h-1zM309 496h1v1h-1zM314 496h1v1h-1zM298 497h1v1h-1zM303 497h1v1h-1zM309 497h1v1h-1zM314 497h1v1h-1zM299 498h1v1h-1zM303 498h1v1h-1zM309 498h1v1h-1zM313 498h1v1h-1zM300 499h2v1h-2zM303 499h1v1h-1zM309 499h1v1h-1zM311 499h2v1h-2zM302 500h2v1h-2zM309 500h2v1h-2zM303 501h7v1h-7z"/>
<path fill="#ffff00" d="M399 47h1v1h-1zM574 47h1v1h-1zM399 48h1v1h-1zM574 48h1v1h-1zM399 49h1v1h-1zM574 49h1v1h-1zM399 50h1v1h-1zM574 50h1v1h-1zM399 51h1v1h-1zM574 51h1v1h-1zM399 52h1v1h-1zM574 52h1v1h-1zM399 53h1v1h-1zM574 53h1v1h-1zM399 54h1v1h-1zM574 54h1v1h-1zM399 55h1v1h-1zM407 55h3v1h-3zM565 55h3v1h-3zM574 55h1v1h-1zM399 56h1v1h-1zM402 56h8v1h-8zM565 56h7v1h-7zM574 56h1v1h-1zM399 57h50v1h-50zM525 57h50v1h-50zM399 58h1v1h-1zM405 58h5v1h-5zM565 58h5v1h-5zM574 58h1v1h-1zM399 59h1v1h-1zM574 59h1v1h-1zM399 60h1v1h-1zM574 60h1v1h-1zM399 61h1v1h-1zM574 61h1v1h-1zM399 62h1v1h-1zM574 62h1v1h-1zM399 63h1v1h-1zM574 63h1v1h-1zM399 64h1v1h-1zM574 64h1v1h-1zM399 65h1v1h-1zM574 65h1v1h-1zM399 66h1v1h-1zM574 66h1v1h-1zM399 67h1v1h-1zM574 67h1v1h-1zM399 68h1v1h-1zM574 68h1v1h-1zM399 69h1v1h-1zM574 69h1v1h-1zM399 70h1v1h-1zM574 70h1v1h-1zM399 71h1v1h-1zM574 71h1v1h-1zM399 72h1v1h-1zM574 72h1v1h-1zM399 73h1v1h-1zM574 73h1v1h-1zM399 74h1v1h-1zM574 74h1v1h-1zM399 75h1v1h-1zM574 75h1v1h-1zM399 76h1v1h-1zM574 76h1v1h-1zM399 77h1v1h-1zM574 77h1v1h-1zM399 78h1v1h-1zM574 78h1v1h-1zM399 79h1v1h-1zM574 79h1v1h-1zM399 80h1v1h-1zM574 80h1v1h-1zM399 81h1v1h-1zM574 81h1v1h-1zM399 82h1v1h-1zM574 82h1v1h-1zM399 83h1v1h-1zM574 83h1v1h-1zM399 84h1v1h-1zM574 84h1v1h-1zM399 85h1v1h-1zM574 85h1v1h-1zM399 86h1v1h-1zM574 86h1v1h-1zM399 87h1v1h-1zM574 87h1v1h-1zM399 88h1v1h-1zM574 88h1v1h-1zM399 89h1v1h-1zM574 89h1v1h-1zM399 90h1v1h-1zM574 90h1v1h-1zM399 91h1v1h-1zM574 91h1v1h-1zM297 92h112v1h-112zM574 92h1v1h-1zM306 93h1v1h-1zM399 93h1v1h-1zM457 93h1v1h-1zM462 93h6v1h-6zM574 93h1v1h-1zM306 94h1v1h-1zM399 94h1v1h-1zM457 94h1v1h-1zM574 94h1v1h-1zM305 95h3v1h-3zM457 95h1v1h-1zM305 96h3v1h-3zM457 96h2v1h-2zM305 97h3v1h-3zM457 97h2v1h-2zM305 98h3v1h-3zM456 98h3v1h-3zM304 99h5v1h-5zM456 99h3v1h-3zM304 100h5v1h-5zM456 100h4v1h-4zM304 101h5v1h-5zM456 101h4v1h-4zM306 102h1v1h-1zM456 102h4v1h-4zM306 103h1v1h-1zM344 103h55v1h-55zM457 103h1v1h-1zM306 104h1v1h-1zM353 104h1v1h-1zM457 104h1v1h-1zM306 105h1v1h-1zM353 105h1v1h-1zM457 105h1v1h-1zM306 106h1v1h-1zM352 106h3v1h-3zM457 106h1v1h-1zM306 107h1v1h-1zM352 107h3v1h-3zM457 107h1v1h-1zM306 108h1v1h-1zM352 108h3v1h-3zM457 108h1v1h-1zM306 109h1v1h-1zM352 109h3v1h-3zM457 109h1v1h-1zM306 110h1v1h-1zM352 110h3v1h-3zM457 110h1v1h-1zM306 111h1v1h-1zM351 111h5v1h-5zM457 111h1v1h-1zM306 112h1v1h-1zM351 112h5v1h-5zM457 112h1v1h-1zM306 113h1v1h-1zM351 113h5v1h-5zM457 113h1v1h-1zM306 114h1v1h-1zM353 114h1v1h-1zM457 114h1v1h-1zM306 115h1v1h-1zM353 115h1v1h-1zM457 115h1v1h-1zM306 116h1v1h-1zM353 116h1v1h-1zM457 116h1v1h-1zM306 117h1v1h-1zM353 117h1v1h-1zM457 117h1v1h-1zM306 118h1v1h-1zM353 118h1v1h-1zM457 118h1v1h-1zM306 119h1v1h-1zM353 119h1v1h-1zM457 119h1v1h-1zM306 120h1v1h-1zM353 120h1v1h-1zM457 120h1v1h-1zM306 121h1v1h-1zM353 121h1v1h-1zM457 121h1v1h-1zM306 122h1v1h-1zM353 122h1v1h-1zM457 122h1v1h-1zM306 123h1v1h-1zM353 123h1v1h-1zM457 123h1v1h-1zM306 124h1v1h-1zM353 124h1v1h-1zM457 124h1v1h-1zM306 125h1v1h-1zM353 125h1v1h-1zM457 125h1v1h-1zM306 126h1v1h-1zM353 126h1v1h-1zM457 126h1v1h-1zM306 127h1v1h-1zM353 127h1v1h-1zM457 127h1v1h-1zM306 128h1v1h-1zM353 128h1v1h-1zM457 128h1v1h-1zM306 129h1v1h-1zM353 129h1v1h-1zM457 129h1v1h-1zM306 130h1v1h-1zM353 130h1v1h-1zM457 130h1v1h-1zM306 131h1v1h-1zM353 131h1v1h-1zM457 131h1v1h-1zM306 132h1v1h-1zM353 132h1v1h-1zM457 132h1v1h-1zM306 133h1v1h-1zM353 133h1v1h-1zM457 133h1v1h-1zM306 134h1v1h-1zM353 134h1v1h-1zM457 134h1v1h-1zM306 135h1v1h-1zM353 135h1v1h-1zM457 135h1v1h-1zM306 136h1v1h-1zM353 136h1v1h-1zM457 136h1v1h-1zM306 137h1v1h-1zM353 137h1v1h-1zM457 137h1v1h-1zM306 138h1v1h-1zM353 138h1v1h-1zM457 138h1v1h-1zM306 139h1v1h-1zM353 139h1v1h-1zM457 139h1v1h-1zM306 140h1v1h-1zM353 140h1v1h-1zM457 140h1v1h-1zM306 141h1v1h-1zM353 141h1v1h-1zM457 141h1v1h-1zM306 142h1v1h-1zM353 142h1v1h-1zM457 142h1v1h-1zM306 143h1v1h-1zM353 143h1v1h-1zM457 143h1v1h-1zM306 144h1v1h-1zM353 144h1v1h-1zM457 144h1v1h-1zM306 145h1v1h-1zM353 145h1v1h-1zM457 145h1v1h-1zM306 146h1v1h-1zM353 146h1v1h-1zM457 146h1v1h-1zM306 147h1v1h-1zM353 147h1v1h-1zM457 147h1v1h-1zM306 148h1v1h-1zM353 148h1v1h-1zM457 148h1v1h-1zM306 149h1v1h-1zM353 149h1v1h-1zM457 149h1v1h-1zM306 150h1v1h-1zM353 150h1v1h-1zM457 150h1v1h-1zM306 151h1v1h-1zM353 151h1v1h-1zM457 151h1v1h-1zM306 152h1v1h-1zM353 152h1v1h-1zM457 152h1v1h-1zM306 153h1v1h-1zM353 153h1v1h-1zM457 153h1v1h-1zM306 154h1v1h-1zM353 154h1v1h-1zM457 154h1v1h-1zM306 155h1v1h-1zM353 155h1v1h-1zM457 155h1v1h-1zM306 156h1v1h-1zM353 156h1v1h-1zM457 156h1v1h-1zM306 157h1v1h-1zM353 157h1v1h-1zM457 157h1v1h-1zM306 158h1v1h-1zM353 158h1v1h-1zM457 158h1v1h-1zM306 159h1v1h-1zM353 159h1v1h-1zM457 159h1v1h-1zM306 160h1v1h-1zM353 160h1v1h-1zM457 160h1v1h-1zM306 161h1v1h-1zM353 161h1v1h-1zM457 161h1v1h-1zM306 162h1v1h-1zM353 162h1v1h-1zM457 162h1v1h-1zM306 163h1v1h-1zM353 163h1v1h-1zM457 163h1v1h-1zM306 164h1v1h-1zM353 164h1v1h-1zM457 164h1v1h-1zM306 165h1v1h-1zM353 165h1v1h-1zM457 165h1v1h-1zM306 166h1v1h-1zM353 166h1v1h-1zM457 166h1v1h-1zM306 167h1v1h-1zM353 167h1v1h-1zM457 167h1v1h-1zM306 168h1v1h-1zM353 168h1v1h-1zM457 168h1v1h-1zM306 169h1v1h-1zM353 169h1v1h-1zM457 169h1v1h-1zM306 170h1v1h-1zM353 170h1v1h-1zM457 170h1v1h-1zM306 171h1v1h-1zM353 171h1v1h-1zM457 171h1v1h-1zM306 172h1v1h-1zM353 172h1v1h-1zM457 172h1v1h-1zM306 173h1v1h-1zM353 173h1v1h-1zM457 173h1v1h-1zM306 174h1v1h-1zM353 174h1v1h-1zM457 174h1v1h-1zM306 175h1v1h-1zM353 175h1v1h-1zM457 175h1v1h-1zM306 176h1v1h-1zM353 176h1v1h-1zM457 176h1v1h-1zM306 177h1v1h-1zM353 177h1v1h-1zM457 177h1v1h-1zM306 178h1v1h-1zM353 178h1v1h-1zM457 178h1v1h-1zM306 179h1v1h-1zM353 179h1v1h-1zM457 179h1v1h-1zM306 180h1v1h-1zM353 180h1v1h-1zM457 180h1v1h-1zM306 181h1v1h-1zM353 181h1v1h-1zM457 181h1v1h-1zM306 182h1v1h-1zM353 182h1v1h-1zM457 182h1v1h-1zM306 183h1v1h-1zM353 183h1v1h-1zM457 183h1v1h-1zM306 184h1v1h-1zM353 184h1v1h-1zM457 184h1v1h-1zM306 185h1v1h-1zM353 185h1v1h-1zM457 185h1v1h-1zM306 186h1v1h-1zM353 186h1v1h-1zM457 186h1v1h-1zM306 187h1v1h-1zM353 187h1v1h-1zM457 187h1v1h-1zM306 188h1v1h-1zM353 188h1v1h-1zM457 188h1v1h-1zM306 189h1v1h-1zM353 189h1v1h-1zM457 189h1v1h-1zM306 190h1v1h-1zM353 190h1v1h-1zM457 190h1v1h-1zM306 191h1v1h-1zM353 191h1v1h-1zM457 191h1v1h-1zM306 192h1v1h-1zM353 192h1v1h-1zM457 192h1v1h-1zM306 193h1v1h-1zM353 193h1v1h-1zM457 193h1v1h-1zM306 194h1v1h-1zM353 194h1v1h-1zM457 194h1v1h-1zM306 195h1v1h-1zM353 195h1v1h-1zM457 195h1v1h-1zM306 196h1v1h-1zM353 196h1v1h-1zM457 196h1v1h-1zM306 197h1v1h-1zM353 197h1v1h-1zM457 197h1v1h-1zM306 198h1v1h-1zM353 198h1v1h-1zM457 198h1v1h-1zM306 199h1v1h-1zM353 199h1v1h-1zM457 199h1v1h-1zM306 200h1v1h-1zM353 200h1v1h-1zM457 200h1v1h-1zM306 201h1v1h-1zM353 201h1v1h-1zM457 201h1v1h-1zM306 202h1v1h-1zM353 202h1v1h-1zM457 202h1v1h-1zM306 203h1v1h-1zM353 203h1v1h-1zM457 203h1v1h-1zM306 204h1v1h-1zM353 204h1v1h-1zM457 204h1v1h-1zM306 205h1v1h-1zM353 205h1v1h-1zM457 205h1v1h-1zM306 206h1v1h-1zM353 206h1v1h-1zM457 206h1v1h-1zM306 207h1v1h-1zM353 207h1v1h-1zM457 207h1v1h-1zM306 208h1v1h-1zM353 208h1v1h-1zM457 208h1v1h-1zM306 209h1v1h-1zM353 209h1v1h-1zM457 209h1v1h-1zM306 210h1v1h-1zM353 210h1v1h-1zM457 210h1v1h-1zM306 211h1v1h-1zM353 211h1v1h-1zM457 211h1v1h-1zM306 212h1v1h-1zM353 212h1v1h-1zM457 212h1v1h-1zM353 213h1v1h-1zM457 213h1v1h-1zM353 214h1v1h-1zM457 214h1v1h-1zM353 215h1v1h-1zM457 215h1v1h-1zM353 216h1v1h-1zM457 216h1v1h-1zM353 217h1v1h-1zM457 217h1v1h-1zM353 218h1v1h-1zM457 218h1v1h-1zM353 219h1v1h-1zM457 219h1v1h-1zM353 220h1v1h-1zM457 220h1v1h-1zM353 221h1v1h-1zM457 221h1v1h-1zM457 222h1v1h-1zM353 342h1v1h-1zM457 342h1v1h-1zM353 343h1v1h-1zM457 343h1v1h-1zM353 344h1v1h-1zM457 344h1v1h-1zM353 345h1v1h-1zM457 345h1v1h-1zM353 346h1v1h-1zM457 346h1v1h-1zM353 347h1v1h-1zM457 347h1v1h-1zM353 348h1v1h-1zM457 348h1v1h-1zM353 349h1v1h-1zM457 349h1v1h-1zM353 350h1v1h-1zM457 350h1v1h-1zM306 351h1v1h-1zM353 351h1v1h-1zM457 351h1v1h-1zM306 352h1v1h-1zM353 352h1v1h-1zM457 352h1v1h-1zM306 353h1v1h-1zM353 353h1v1h-1zM457 353h1v1h-1zM306 354h1v1h-1zM353 354h1v1h-1zM457 354h1v1h-1zM306 355h1v1h-1zM353 355h1v1h-1zM457 355h1v1h-1zM306 356h1v1h-1zM353 356h1v1h-1zM457 356h1v1h-1zM306 357h1v1h-1zM353 357h1v1h-1zM457 357h1v1h-1zM306 358h1v1h-1zM353 358h1v1h-1zM457 358h1v1h-1zM306 359h1v1h-1zM353 359h1v1h-1zM457 359h1v1h-1zM306 360h1v1h-1zM353 360h1v1h-1zM457 360h1v1h-1zM306 361h1v1h-1zM353 361h1v1h-1zM457 361h1v1h-1zM306 362h1v1h-1zM353 362h1v1h-1zM457 362h1v1h-1zM306 363h1v1h-1zM353 363h1v1h-1zM457 363h1v1h-1zM306 364h1v1h-1zM353 364h1v1h-1zM457 364h1v1h-1zM306 365h1v1h-1zM353 365h1v1h-1zM457 365h1v1h-1zM306 366h1v1h-1zM353 366h1v1h-1zM457 366h1v1h-1zM306 367h1v1h-1zM353 367h1v1h-1zM457 367h1v1h-1zM306 368h1v1h-1zM353 368h1v1h-1zM457 368h1v1h-1zM306 369h1v1h-1zM353 369h1v1h-1zM457 369h1v1h-1zM306 370h1v1h-1zM353 370h1v1h-1zM457 370h1v1h-1zM306 371h1v1h-1zM353 371h1v1h-1zM457 371h1v1h-1zM306 372h1v1h-1zM353 372h1v1h-1zM457 372h1v1h-1zM306 373h1v1h-1zM353 373h1v1h-1zM457 373h1v1h-1zM306 374h1v1h-1zM353 374h1v1h-1zM457 374h1v1h-1zM306 375h1v1h-1zM353 375h1v1h-1zM457 375h1v1h-1zM306 376h1v1h-1zM353 376h1v1h-1zM457 376h1v1h-1zM306 377h1v1h-1zM353 377h1v1h-1zM457 377h1v1h-1zM306 378h1v1h-1zM353 378h1v1h-1zM457 378h1v1h-1zM306 379h1v1h-1zM353 379h1v1h-1zM457 379h1v1h-1zM306 380h1v1h-1zM353 380h1v1h-1zM457 380h1v1h-1zM306 381h1v1h-1zM353 381h1v1h-1zM457 381h1v1h-1zM306 382h1v1h-1zM353 382h1v1h-1zM457 382h1v1h-1zM306 383h1v1h-1zM353 383h1v1h-1zM457 383h1v1h-1zM306 384h1v1h-1zM353 384h1v1h-1zM457 384h1v1h-1zM306 385h1v1h-1zM353 385h1v1h-1zM457 385h1v1h-1zM306 386h1v1h-1zM353 386h1v1h-1zM457 386h1v1h-1zM306 387h1v1h-1zM353 387h1v1h-1zM457 387h1v1h-1zM306 388h1v1h-1zM353 388h1v1h-1zM457 388h1v1h-1zM306 389h1v1h-1zM353 389h1v1h-1zM457 389h1v1h-1zM306 390h1v1h-1zM353 390h1v1h-1zM457 390h1v1h-1zM306 391h1v1h-1zM353 391h1v1h-1zM457 391h1v1h-1zM306 392h1v1h-1zM353 392h1v1h-1zM457 392h1v1h-1zM306 393h1v1h-1zM353 393h1v1h-1zM457 393h1v1h-1zM306 394h1v1h-1zM353 394h1v1h-1zM457 394h1v1h-1zM306 395h1v1h-1zM353 395h1v1h-1zM457 395h1v1h-1zM306 396h1v1h-1zM353 396h1v1h-1zM457 396h1v1h-1zM306 397h1v1h-1zM353 397h1v1h-1zM457 397h1v1h-1zM306 398h1v1h-1zM353 398h1v1h-1zM457 398h1v1h-1zM306 399h1v1h-1zM353 399h1v1h-1zM457 399h1v1h-1zM306 400h1v1h-1zM353 400h1v1h-1zM457 400h1v1h-1zM306 401h1v1h-1zM353 401h1v1h-1zM457 401h1v1h-1zM306 402h1v1h-1zM353 402h1v1h-1zM457 402h1v1h-1zM306 403h1v1h-1zM353 403h1v1h-1zM457 403h1v1h-1zM306 404h1v1h-1zM353 404h1v1h-1zM457 404h1v1h-1zM306 405h1v1h-1zM353 405h1v1h-1zM457 405h1v1h-1zM306 406h1v1h-1zM353 406h1v1h-1zM457 406h1v1h-1zM306 407h1v1h-1zM353 407h1v1h-1zM457 407h1v1h-1zM306 408h1v1h-1zM353 408h1v1h-1zM457 408h1v1h-1zM306 409h1v1h-1zM353 409h1v1h-1zM457 409h1v1h-1zM306 410h1v1h-1zM353 410h1v1h-1zM457 410h1v1h-1zM306 411h1v1h-1zM353 411h1v1h-1zM457 411h1v1h-1zM306 412h1v1h-1zM353 412h1v1h-1zM457 412h1v1h-1zM306 413h1v1h-1zM353 413h1v1h-1zM457 413h1v1h-1zM306 414h1v1h-1zM353 414h1v1h-1zM457 414h1v1h-1zM306 415h1v1h-1zM353 415h1v1h-1zM457 415h1v1h-1zM306 416h1v1h-1zM353 416h1v1h-1zM457 416h1v1h-1zM306 417h1v1h-1zM353 417h1v1h-1zM457 417h1v1h-1zM306 418h1v1h-1zM353 418h1v1h-1zM457 418h1v1h-1zM306 419h1v1h-1zM353 419h1v1h-1zM457 419h1v1h-1zM306 420h1v1h-1zM353 420h1v1h-1zM457 420h1v1h-1zM306 421h1v1h-1zM353 421h1v1h-1zM457 421h1v1h-1zM306 422h1v1h-1zM353 422h1v1h-1zM457 422h1v1h-1zM306 423h1v1h-1zM353 423h1v1h-1zM457 423h1v1h-1zM306 424h1v1h-1zM353 424h1v1h-1zM457 424h1v1h-1zM306 425h1v1h-1zM353 425h1v1h-1zM457 425h1v1h-1zM306 426h1v1h-1zM353 426h1v1h-1zM457 426h1v1h-1zM306 427h1v1h-1zM353 427h1v1h-1zM457 427h1v1h-1zM306 428h1v1h-1zM353 428h1v1h-1zM457 428h1v1h-1zM306 429h1v1h-1zM353 429h1v1h-1zM457 429h1v1h-1zM306 430h1v1h-1zM353 430h1v1h-1zM457 430h1v1h-1zM306 431h1v1h-1zM353 431h1v1h-1zM457 431h1v1h-1zM306 432h1v1h-1zM353 432h1v1h-1zM457 432h1v1h-1zM306 433h1v1h-1zM353 433h1v1h-1zM457 433h1v1h-1zM306 434h1v1h-1zM353 434h1v1h-1zM457 434h1v1h-1zM306 435h1v1h-1zM353 435h1v1h-1zM457 435h1v1h-1zM306 436h1v1h-1zM353 436h1v1h-1zM457 436h1v1h-1zM306 437h1v1h-1zM353 437h1v1h-1zM457 437h1v1h-1zM306 438h1v1h-1zM353 438h1v1h-1zM457 438h1v1h-1zM306 439h1v1h-1zM353 439h1v1h-1zM457 439h1v1h-1zM306 440h1v1h-1zM353 440h1v1h-1zM457 440h1v1h-1zM306 441h1v1h-1zM353 441h1v1h-1zM457 441h1v1h-1zM306 442h1v1h-1zM353 442h1v1h-1zM457 442h1v1h-1zM306 443h1v1h-1zM353 443h1v1h-1zM457 443h1v1h-1zM306 444h1v1h-1zM353 444h1v1h-1zM457 444h1v1h-1zM306 445h1v1h-1zM353 445h1v1h-1zM457 445h1v1h-1zM306 446h1v1h-1zM353 446h1v1h-1zM457 446h1v1h-1zM306 447h1v1h-1zM353 447h1v1h-1zM457 447h1v1h-1zM306 448h1v1h-1zM353 448h1v1h-1zM457 448h1v1h-1zM306 449h1v1h-1zM353 449h1v1h-1zM457 449h1v1h-1zM306 450h1v1h-1zM351 450h5v1h-5zM457 450h1v1h-1zM306 451h1v1h-1zM351 451h5v1h-5zM457 451h1v1h-1zM306 452h1v1h-1zM351 452h5v1h-5zM457 452h1v1h-1zM306 453h1v1h-1zM352 453h3v1h-3zM457 453h1v1h-1zM306 454h1v1h-1zM352 454h3v1h-3zM457 454h1v1h-1zM306 455h1v1h-1zM352 455h3v1h-3zM457 455h1v1h-1zM306 456h1v1h-1zM352 456h3v1h-3zM457 456h1v1h-1zM306 457h1v1h-1zM353 457h1v1h-1zM457 457h1v1h-1zM306 458h1v1h-1zM353 458h1v1h-1zM457 458h1v1h-1zM306 459h1v1h-1zM344 459h55v1h-55zM457 459h1v1h-1zM306 460h1v1h-1zM456 460h4v1h-4zM306 461h1v1h-1zM456 461h4v1h-4zM304 462h5v1h-5zM456 462h4v1h-4zM304 463h5v1h-5zM456 463h4v1h-4zM304 464h5v1h-5zM456 464h3v1h-3zM305 465h3v1h-3zM457 465h2v1h-2zM305 466h3v1h-3zM457 466h2v1h-2zM305 467h3v1h-3zM457 467h2v1h-2zM305 468h3v1h-3zM457 468h1v1h-1zM306 469h1v1h-1zM457 469h1v1h-1zM306 470h1v1h-1zM448 470h6v1h-6zM297 471h112v1h-112zM296 474h20v1h-20z"/>
<path fill="#00ff00" d="M461 44h1v1h-1zM464 44h1v1h-1zM476 44h4v1h-4zM518 44h4v1h-4zM461 45h2v1h-2zM464 45h1v1h-1zM476 45h1v1h-1zM521 45h1v1h-1zM461 46h2v1h-2zM464 46h1v1h-1zM476 46h1v1h-1zM521 46h1v1h-1zM453 47h6v1h-6zM461 47h2v1h-2zM464 47h1v1h-1zM476 47h1v1h-1zM481 47h7v1h-7zM492 47h2v1h-2zM504 47h3v1h-3zM512 47h3v1h-3zM521 47h1v1h-1zM458 48h1v1h-1zM461 48h1v1h-1zM464 48h1v1h-1zM476 48h1v1h-1zM487 48h1v1h-1zM491 48h2v1h-2zM494 48h1v1h-1zM503 48h1v1h-1zM507 48h1v1h-1zM511 48h1v1h-1zM515 48h1v1h-1zM521 48h1v1h-1zM457 49h1v1h-1zM476 49h1v1h-1zM487 49h1v1h-1zM491 49h1v1h-1zM495 49h1v1h-1zM503 49h1v1h-1zM507 49h1v1h-1zM511 49h1v1h-1zM515 49h1v1h-1zM521 49h1v1h-1zM456 50h1v1h-1zM476 50h1v1h-1zM486 50h1v1h-1zM490 50h1v1h-1zM502 50h1v1h-1zM507 50h1v1h-1zM510 50h1v1h-1zM516 50h1v1h-1zM521 50h1v1h-1zM456 51h1v1h-1zM476 51h1v1h-1zM486 51h1v1h-1zM490 51h1v1h-1zM507 51h1v1h-1zM510 51h1v1h-1zM516 51h1v1h-1zM521 51h1v1h-1zM456 52h1v1h-1zM476 52h1v1h-1zM486 52h1v1h-1zM490 52h1v1h-1zM507 52h1v1h-1zM510 52h1v1h-1zM516 52h1v1h-1zM521 52h1v1h-1zM456 53h2v1h-2zM476 53h1v1h-1zM486 53h1v1h-1zM490 53h5v1h-5zM506 53h2v1h-2zM510 53h1v1h-1zM516 53h1v1h-1zM521 53h1v1h-1zM458 54h1v1h-1zM476 54h1v1h-1zM485 54h1v1h-1zM490 54h1v1h-1zM495 54h1v1h-1zM506 54h1v1h-1zM510 54h1v1h-1zM516 54h1v1h-1zM521 54h1v1h-1zM458 55h1v1h-1zM476 55h1v1h-1zM485 55h1v1h-1zM490 55h1v1h-1zM495 55h1v1h-1zM505 55h1v1h-1zM510 55h1v1h-1zM516 55h1v1h-1zM521 55h1v1h-1zM458 56h1v1h-1zM476 56h1v1h-1zM485 56h1v1h-1zM490 56h1v1h-1zM495 56h1v1h-1zM505 56h1v1h-1zM510 56h1v1h-1zM516 56h1v1h-1zM521 56h1v1h-1zM458 57h1v1h-1zM476 57h1v1h-1zM484 57h1v1h-1zM490 57h1v1h-1zM495 57h1v1h-1zM504 57h1v1h-1zM510 57h1v1h-1zM516 57h1v1h-1zM521 57h1v1h-1zM458 58h1v1h-1zM476 58h1v1h-1zM484 58h1v1h-1zM490 58h1v1h-1zM495 58h1v1h-1zM504 58h1v1h-1zM510 58h1v1h-1zM516 58h1v1h-1zM521 58h1v1h-1zM458 59h1v1h-1zM476 59h1v1h-1zM484 59h1v1h-1zM490 59h1v1h-1zM495 59h1v1h-1zM503 59h1v1h-1zM510 59h1v1h-1zM516 59h1v1h-1zM521 59h1v1h-1zM452 60h2v1h-2zM458 60h1v1h-1zM476 60h1v1h-1zM484 60h1v1h-1zM490 60h1v1h-1zM495 60h1v1h-1zM499 60h1v1h-1zM503 60h1v1h-1zM511 60h1v1h-1zM515 60h1v1h-1zM521 60h1v1h-1zM453 61h1v1h-1zM458 61h1v1h-1zM476 61h1v1h-1zM483 61h1v1h-1zM491 61h1v1h-1zM494 61h1v1h-1zM498 61h2v1h-2zM502 61h1v1h-1zM511 61h1v1h-1zM515 61h1v1h-1zM521 61h1v1h-1zM454 62h4v1h-4zM476 62h1v1h-1zM483 62h1v1h-1zM492 62h2v1h-2zM499 62h1v1h-1zM502 62h7v1h-7zM512 62h3v1h-3zM521 62h1v1h-1zM476 63h1v1h-1zM521 63h1v1h-1zM476 64h1v1h-1zM521 64h1v1h-1zM476 65h1v1h-1zM521 65h1v1h-1zM476 66h4v1h-4zM518 66h4v1h-4zM276 215h54v1h-54zM276 216h1v1h-1zM329 216h1v1h-1zM276 217h1v1h-1zM329 217h1v1h-1zM276 218h1v1h-1zM329 218h1v1h-1zM276 219h1v1h-1zM329 219h1v1h-1zM276 220h1v1h-1zM329 220h1v1h-1zM276 221h1v1h-1zM329 221h1v1h-1zM276 222h1v1h-1zM329 222h1v1h-1zM341 224h23v1h-23zM445 224h23v1h-23zM287 225h8v1h-8zM303 225h3v1h-3zM341 225h1v1h-1zM363 225h1v1h-1zM445 225h1v1h-1zM467 225h1v1h-1zM284 226h3v1h-3zM295 226h3v1h-3zM303 226h1v1h-1zM306 226h3v1h-3zM341 226h1v1h-1zM363 226h1v1h-1zM445 226h1v1h-1zM467 226h1v1h-1zM283 227h1v1h-1zM298 227h1v1h-1zM303 227h1v1h-1zM309 227h4v1h-4zM341 227h1v1h-1zM363 227h1v1h-1zM445 227h1v1h-1zM467 227h1v1h-1zM283 228h1v1h-1zM298 228h1v1h-1zM303 228h1v1h-1zM313 228h3v1h-3zM283 229h1v1h-1zM298 229h1v1h-1zM303 229h1v1h-1zM316 229h2v1h-2zM347 229h8v1h-8zM452 229h8v1h-8zM284 230h1v1h-1zM297 230h1v1h-1zM303 230h1v1h-1zM344 230h3v1h-3zM355 230h3v1h-3zM449 230h3v1h-3zM459 230h3v1h-3zM285 231h12v1h-12zM303 231h1v1h-1zM343 231h1v1h-1zM358 231h1v1h-1zM448 231h1v1h-1zM462 231h1v1h-1zM343 232h1v1h-1zM358 232h1v1h-1zM448 232h1v1h-1zM462 232h1v1h-1zM343 233h1v1h-1zM358 233h1v1h-1zM448 233h1v1h-1zM462 233h1v1h-1zM306 234h7v1h-7zM344 234h1v1h-1zM357 234h1v1h-1zM449 234h1v1h-1zM461 234h1v1h-1zM304 235h2v1h-2zM311 235h1v1h-1zM313 235h4v1h-4zM345 235h12v1h-12zM450 235h11v1h-11zM283 236h16v1h-16zM303 236h1v1h-1zM312 236h1v1h-1zM317 236h1v1h-1zM284 237h2v1h-2zM303 237h1v1h-1zM312 237h1v1h-1zM317 237h1v1h-1zM347 237h8v1h-8zM286 238h1v1h-1zM304 238h1v1h-1zM311 238h1v1h-1zM316 238h2v1h-2zM344 238h3v1h-3zM355 238h3v1h-3zM305 239h2v1h-2zM309 239h2v1h-2zM314 239h2v1h-2zM343 239h1v1h-1zM358 239h1v1h-1zM307 240h2v1h-2zM343 240h1v1h-1zM358 240h1v1h-1zM448 240h15v1h-15zM343 241h1v1h-1zM358 241h1v1h-1zM449 241h2v1h-2zM344 242h1v1h-1zM357 242h1v1h-1zM451 242h1v1h-1zM296 243h3v1h-3zM315 243h3v1h-3zM345 243h12v1h-12zM297 244h1v1h-1zM316 244h1v1h-1zM291 246h6v1h-6zM312 246h1v1h-1zM356 246h3v1h-3zM460 246h3v1h-3zM283 247h1v1h-1zM290 247h1v1h-1zM297 247h2v1h-2zM312 247h1v1h-1zM357 247h1v1h-1zM461 247h1v1h-1zM283 248h1v1h-1zM289 248h1v1h-1zM298 248h1v1h-1zM303 248h15v1h-15zM283 249h1v1h-1zM289 249h1v1h-1zM298 249h1v1h-1zM305 249h2v1h-2zM312 249h1v1h-1zM457 249h1v1h-1zM283 250h1v1h-1zM289 250h1v1h-1zM298 250h1v1h-1zM307 250h2v1h-2zM312 250h1v1h-1zM351 250h6v1h-6zM457 250h1v1h-1zM283 251h8v1h-8zM297 251h1v1h-1zM309 251h2v1h-2zM312 251h1v1h-1zM343 251h1v1h-1zM350 251h1v1h-1zM357 251h2v1h-2zM448 251h15v1h-15zM296 252h1v1h-1zM311 252h2v1h-2zM343 252h1v1h-1zM349 252h1v1h-1zM358 252h1v1h-1zM450 252h2v1h-2zM457 252h1v1h-1zM343 253h1v1h-1zM349 253h1v1h-1zM358 253h1v1h-1zM452 253h2v1h-2zM457 253h1v1h-1zM343 254h1v1h-1zM349 254h1v1h-1zM358 254h1v1h-1zM454 254h2v1h-2zM457 254h1v1h-1zM285 255h1v1h-1zM291 255h6v1h-6zM305 255h1v1h-1zM311 255h5v1h-5zM343 255h8v1h-8zM357 255h1v1h-1zM456 255h2v1h-2zM284 256h1v1h-1zM289 256h2v1h-2zM297 256h1v1h-1zM304 256h1v1h-1zM309 256h2v1h-2zM316 256h1v1h-1zM356 256h1v1h-1zM283 257h1v1h-1zM289 257h1v1h-1zM298 257h1v1h-1zM303 257h1v1h-1zM309 257h1v1h-1zM317 257h1v1h-1zM283 258h1v1h-1zM289 258h1v1h-1zM298 258h1v1h-1zM303 258h1v1h-1zM309 258h1v1h-1zM317 258h1v1h-1zM351 258h6v1h-6zM450 258h1v1h-1zM456 258h5v1h-5zM284 259h1v1h-1zM289 259h1v1h-1zM297 259h1v1h-1zM304 259h1v1h-1zM309 259h1v1h-1zM316 259h1v1h-1zM343 259h1v1h-1zM350 259h1v1h-1zM357 259h2v1h-2zM449 259h2v1h-2zM454 259h2v1h-2zM461 259h1v1h-1zM285 260h12v1h-12zM305 260h11v1h-11zM343 260h1v1h-1zM349 260h1v1h-1zM358 260h1v1h-1zM448 260h2v1h-2zM454 260h1v1h-1zM462 260h1v1h-1zM343 261h1v1h-1zM349 261h1v1h-1zM358 261h1v1h-1zM448 261h1v1h-1zM454 261h1v1h-1zM462 261h1v1h-1zM343 262h1v1h-1zM349 262h1v1h-1zM358 262h1v1h-1zM448 262h2v1h-2zM454 262h1v1h-1zM462 262h1v1h-1zM343 263h8v1h-8zM357 263h1v1h-1zM449 263h2v1h-2zM454 263h1v1h-1zM461 263h1v1h-1zM356 264h1v1h-1zM451 264h10v1h-10zM283 265h16v1h-16zM303 265h15v1h-15zM284 266h2v1h-2zM304 266h2v1h-2zM286 267h1v1h-1zM306 267h1v1h-1zM300 269h5v1h-5zM343 269h16v1h-16zM448 269h15v1h-15zM295 270h2v1h-2zM298 270h2v1h-2zM305 270h1v1h-1zM344 270h2v1h-2zM449 270h2v1h-2zM297 271h4v1h-4zM306 271h1v1h-1zM346 271h1v1h-1zM451 271h1v1h-1zM297 272h1v1h-1zM301 272h4v1h-4zM306 272h1v1h-1zM298 273h2v1h-2zM305 273h3v1h-3zM300 274h5v1h-5zM349 275h6v1h-6zM454 275h6v1h-6zM344 276h5v1h-5zM355 276h2v1h-2zM449 276h5v1h-5zM460 276h1v1h-1zM346 277h1v1h-1zM348 277h4v1h-4zM357 277h1v1h-1zM451 277h4v1h-4zM461 277h1v1h-1zM276 278h1v1h-1zM329 278h1v1h-1zM346 278h1v1h-1zM352 278h4v1h-4zM357 278h1v1h-1zM451 278h1v1h-1zM455 278h4v1h-4zM461 278h1v1h-1zM276 279h1v1h-1zM329 279h1v1h-1zM347 279h2v1h-2zM355 279h5v1h-5zM452 279h2v1h-2zM459 279h4v1h-4zM276 280h1v1h-1zM329 280h1v1h-1zM349 280h6v1h-6zM454 280h6v1h-6zM276 281h1v1h-1zM329 281h1v1h-1zM376 281h49v1h-49zM431 281h9v1h-9zM446 281h49v1h-49zM529 281h64v1h-64zM276 282h1v1h-1zM329 282h1v1h-1zM276 283h1v1h-1zM329 283h1v1h-1zM341 283h1v1h-1zM363 283h1v1h-1zM445 283h1v1h-1zM467 283h1v1h-1zM276 284h1v1h-1zM329 284h1v1h-1zM341 284h1v1h-1zM363 284h1v1h-1zM445 284h1v1h-1zM467 284h1v1h-1zM276 285h54v1h-54zM341 285h1v1h-1zM363 285h1v1h-1zM445 285h1v1h-1zM467 285h1v1h-1zM341 286h23v1h-23zM445 286h23v1h-23zM341 297h4v1h-4zM445 297h4v1h-4zM341 298h1v1h-1zM345 298h1v1h-1zM445 298h1v1h-1zM449 298h1v1h-1zM290 299h5v1h-5zM341 299h2v1h-2zM445 299h2v1h-2zM291 300h1v1h-1zM341 300h5v1h-5zM445 300h5v1h-5zM290 302h5v1h-5zM347 303h8v1h-8zM450 303h1v1h-1zM456 303h5v1h-5zM344 304h3v1h-3zM355 304h3v1h-3zM449 304h2v1h-2zM454 304h2v1h-2zM461 304h1v1h-1zM287 305h8v1h-8zM311 305h5v1h-5zM343 305h1v1h-1zM358 305h1v1h-1zM448 305h2v1h-2zM454 305h1v1h-1zM462 305h1v1h-1zM284 306h3v1h-3zM295 306h3v1h-3zM303 306h1v1h-1zM310 306h1v1h-1zM316 306h2v1h-2zM343 306h1v1h-1zM358 306h1v1h-1zM448 306h1v1h-1zM454 306h1v1h-1zM462 306h1v1h-1zM283 307h1v1h-1zM298 307h1v1h-1zM303 307h1v1h-1zM309 307h1v1h-1zM317 307h1v1h-1zM343 307h1v1h-1zM358 307h1v1h-1zM448 307h2v1h-2zM454 307h1v1h-1zM462 307h1v1h-1zM283 308h1v1h-1zM298 308h1v1h-1zM303 308h1v1h-1zM309 308h1v1h-1zM317 308h1v1h-1zM344 308h1v1h-1zM357 308h1v1h-1zM449 308h2v1h-2zM454 308h1v1h-1zM461 308h1v1h-1zM283 309h1v1h-1zM298 309h1v1h-1zM303 309h1v1h-1zM309 309h1v1h-1zM317 309h1v1h-1zM345 309h12v1h-12zM451 309h10v1h-10zM284 310h1v1h-1zM297 310h1v1h-1zM303 310h8v1h-8zM316 310h1v1h-1zM285 311h12v1h-12zM315 311h1v1h-1zM457 311h1v1h-1zM457 312h1v1h-1zM287 313h8v1h-8zM306 313h7v1h-7zM448 313h15v1h-15zM284 314h3v1h-3zM295 314h3v1h-3zM304 314h2v1h-2zM311 314h1v1h-1zM313 314h4v1h-4zM343 314h16v1h-16zM450 314h2v1h-2zM457 314h1v1h-1zM283 315h1v1h-1zM298 315h1v1h-1zM303 315h1v1h-1zM312 315h1v1h-1zM317 315h1v1h-1zM344 315h2v1h-2zM452 315h2v1h-2zM457 315h1v1h-1zM283 316h1v1h-1zM298 316h1v1h-1zM303 316h1v1h-1zM312 316h1v1h-1zM317 316h1v1h-1zM346 316h1v1h-1zM454 316h2v1h-2zM457 316h1v1h-1zM283 317h1v1h-1zM298 317h1v1h-1zM304 317h1v1h-1zM311 317h1v1h-1zM316 317h2v1h-2zM456 317h2v1h-2zM284 318h1v1h-1zM297 318h1v1h-1zM305 318h2v1h-2zM309 318h2v1h-2zM314 318h2v1h-2zM285 319h12v1h-12zM307 319h2v1h-2zM356 320h3v1h-3zM460 320h3v1h-3zM357 321h1v1h-1zM461 321h1v1h-1zM291 322h6v1h-6zM312 322h1v1h-1zM283 323h1v1h-1zM290 323h1v1h-1zM297 323h2v1h-2zM312 323h1v1h-1zM450 323h1v1h-1zM456 323h5v1h-5zM283 324h1v1h-1zM289 324h1v1h-1zM298 324h1v1h-1zM303 324h15v1h-15zM345 324h1v1h-1zM351 324h6v1h-6zM449 324h2v1h-2zM454 324h2v1h-2zM461 324h1v1h-1zM283 325h1v1h-1zM289 325h1v1h-1zM298 325h1v1h-1zM305 325h2v1h-2zM312 325h1v1h-1zM344 325h1v1h-1zM349 325h2v1h-2zM357 325h1v1h-1zM448 325h2v1h-2zM454 325h1v1h-1zM462 325h1v1h-1zM283 326h1v1h-1zM289 326h1v1h-1zM298 326h1v1h-1zM307 326h2v1h-2zM312 326h1v1h-1zM343 326h1v1h-1zM349 326h1v1h-1zM358 326h1v1h-1zM448 326h1v1h-1zM454 326h1v1h-1zM462 326h1v1h-1zM283 327h8v1h-8zM297 327h1v1h-1zM309 327h2v1h-2zM312 327h1v1h-1zM343 327h1v1h-1zM349 327h1v1h-1zM358 327h1v1h-1zM448 327h2v1h-2zM454 327h1v1h-1zM462 327h1v1h-1zM296 328h1v1h-1zM311 328h2v1h-2zM344 328h1v1h-1zM349 328h1v1h-1zM357 328h1v1h-1zM449 328h2v1h-2zM454 328h1v1h-1zM461 328h1v1h-1zM345 329h12v1h-12zM451 329h10v1h-10zM296 331h3v1h-3zM315 331h3v1h-3zM297 332h1v1h-1zM316 332h1v1h-1zM349 333h6v1h-6zM454 333h6v1h-6zM344 334h5v1h-5zM355 334h2v1h-2zM449 334h5v1h-5zM460 334h1v1h-1zM285 335h1v1h-1zM291 335h6v1h-6zM305 335h1v1h-1zM311 335h5v1h-5zM346 335h1v1h-1zM348 335h4v1h-4zM357 335h1v1h-1zM451 335h4v1h-4zM461 335h1v1h-1zM284 336h1v1h-1zM289 336h2v1h-2zM297 336h1v1h-1zM304 336h1v1h-1zM309 336h2v1h-2zM316 336h1v1h-1zM346 336h1v1h-1zM352 336h4v1h-4zM357 336h1v1h-1zM451 336h1v1h-1zM455 336h4v1h-4zM461 336h1v1h-1zM283 337h1v1h-1zM289 337h1v1h-1zM298 337h1v1h-1zM303 337h1v1h-1zM309 337h1v1h-1zM317 337h1v1h-1zM347 337h2v1h-2zM355 337h5v1h-5zM452 337h2v1h-2zM459 337h4v1h-4zM283 338h1v1h-1zM289 338h1v1h-1zM298 338h1v1h-1zM303 338h1v1h-1zM309 338h1v1h-1zM317 338h1v1h-1zM349 338h6v1h-6zM454 338h6v1h-6zM284 339h1v1h-1zM289 339h1v1h-1zM297 339h1v1h-1zM304 339h1v1h-1zM309 339h1v1h-1zM316 339h1v1h-1zM285 340h12v1h-12zM305 340h11v1h-11zM300 342h5v1h-5zM295 343h2v1h-2zM298 343h2v1h-2zM305 343h1v1h-1zM297 344h4v1h-4zM306 344h1v1h-1zM297 345h1v1h-1zM301 345h4v1h-4zM306 345h1v1h-1zM298 346h2v1h-2zM305 346h3v1h-3zM300 347h5v1h-5z"/>
</svg>
</body></html>
